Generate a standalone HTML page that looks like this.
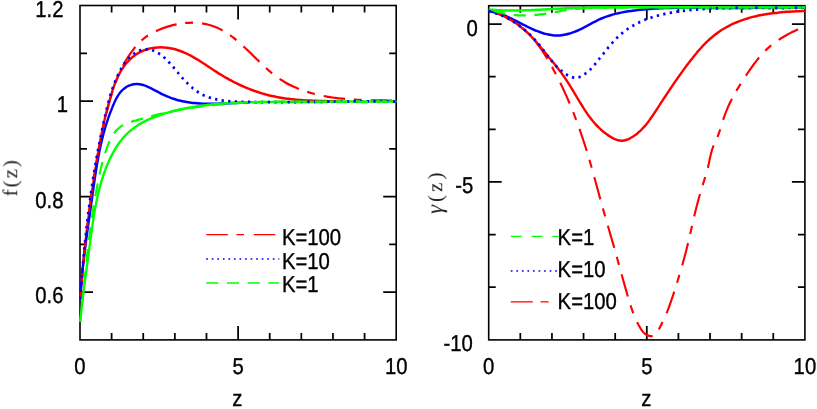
<!DOCTYPE html>
<html>
<head>
<meta charset="utf-8">
<title>f(z) and gamma(z)</title>
<style>
html,body{margin:0;padding:0;background:#fff;}
body{width:817px;height:409px;overflow:hidden;position:relative;font-family:"Liberation Sans",sans-serif;}
</style>
</head>
<body>
<svg width="817" height="409" viewBox="0 0 817 409" style="position:absolute;left:0;top:0">
<rect width="817" height="409" fill="#fff"/>
<clipPath id="cl"><rect x="79.00" y="5.50" width="318.20" height="334.40"/></clipPath>
<clipPath id="cr"><rect x="487.70" y="5.70" width="318.20" height="334.20"/></clipPath>
<rect x="80.00" y="5.50" width="316.20" height="334.40" fill="none" stroke="#000" stroke-width="1.60"/>
<path d="M111.62 5.50v7.00 M111.62 339.90v-7.00 M143.24 5.50v7.00 M143.24 339.90v-7.00 M174.86 5.50v7.00 M174.86 339.90v-7.00 M206.48 5.50v7.00 M206.48 339.90v-7.00 M238.10 5.50v14.00 M238.10 339.90v-14.00 M269.72 5.50v7.00 M269.72 339.90v-7.00 M301.34 5.50v7.00 M301.34 339.90v-7.00 M332.96 5.50v7.00 M332.96 339.90v-7.00 M364.58 5.50v7.00 M364.58 339.90v-7.00 M80.00 53.27h7.00 M396.20 53.27h-7.00 M80.00 101.04h13.00 M396.20 101.04h-13.00 M80.00 148.81h7.00 M396.20 148.81h-7.00 M80.00 196.59h13.00 M396.20 196.59h-13.00 M80.00 244.36h7.00 M396.20 244.36h-7.00 M80.00 292.13h13.00 M396.20 292.13h-13.00 " stroke="#000" stroke-width="1.75" fill="none"/>
<g clip-path="url(#cl)" stroke-linecap="butt" stroke-linejoin="round"><g transform="scale(1 1.075)">
<path d="M80.30 278.14 C80.33 277.67 80.43 276.28 80.49 275.35 C80.56 274.41 80.62 273.48 80.69 272.55 C80.76 271.62 80.83 270.69 80.90 269.75 C80.98 268.82 81.05 267.89 81.13 266.95 C81.20 266.02 81.28 265.09 81.36 264.15 C81.43 263.22 81.51 262.29 81.59 261.35 C81.68 260.42 81.76 259.48 81.84 258.55 C81.93 257.61 82.01 256.68 82.10 255.74 C82.19 254.81 82.28 253.87 82.37 252.94 C82.46 252.00 82.55 251.07 82.64 250.13 C82.73 249.20 82.83 248.26 82.92 247.32 C83.02 246.39 83.11 245.45 83.21 244.52 C83.31 243.58 83.41 242.64 83.51 241.71 C83.61 240.77 83.71 239.83 83.82 238.90 C83.92 237.96 84.03 237.03 84.13 236.09 C84.24 235.15 84.34 234.22 84.45 233.28 C84.56 232.34 84.67 231.41 84.78 230.47 C84.89 229.53 85.00 228.60 85.12 227.66 C85.23 226.72 85.34 225.79 85.46 224.85 C85.58 223.92 85.69 222.98 85.81 222.04 C85.93 221.11 86.05 220.17 86.17 219.23 C86.29 218.30 86.41 217.36 86.53 216.43 C86.65 215.49 86.77 214.56 86.90 213.62 C87.02 212.68 87.15 211.75 87.27 210.81 C87.40 209.88 87.53 208.94 87.65 208.01 C87.78 207.07 87.91 206.14 88.04 205.20 C88.17 204.27 88.30 203.34 88.43 202.40 C88.56 201.47 88.70 200.53 88.83 199.60 C88.96 198.67 89.10 197.73 89.23 196.80 C89.37 195.87 89.50 194.93 89.64 194.00 C89.78 193.07 89.92 192.14 90.05 191.20 C90.19 190.27 90.33 189.34 90.47 188.41 C90.61 187.48 90.75 186.55 90.89 185.62 C91.04 184.69 91.18 183.76 91.32 182.83 C91.46 181.90 91.61 180.97 91.75 180.04 C91.90 179.11 92.04 178.18 92.19 177.25 C92.33 176.32 92.48 175.40 92.63 174.47 C92.77 173.54 92.92 172.61 93.07 171.69 C93.22 170.76 93.37 169.83 93.51 168.91 C93.66 167.98 93.81 167.06 93.96 166.13 C94.12 165.21 94.27 164.28 94.42 163.36 C94.57 162.44 94.72 161.51 94.87 160.59 C95.03 159.67 95.18 158.75 95.33 157.83 C95.49 156.90 95.64 155.98 95.80 155.06 C95.95 154.14 96.11 153.22 96.27 152.30 C96.42 151.38 96.58 150.46 96.74 149.54 C96.90 148.62 97.06 147.70 97.23 146.79 C97.39 145.87 97.55 144.95 97.72 144.03 C97.89 143.11 98.05 142.19 98.22 141.28 C98.39 140.36 98.56 139.44 98.74 138.52 C98.91 137.61 99.08 136.69 99.26 135.77 C99.44 134.86 99.62 133.94 99.80 133.02 C99.98 132.11 100.16 131.19 100.35 130.27 C100.53 129.36 100.72 128.44 100.91 127.52 C101.10 126.61 101.30 125.69 101.49 124.77 C101.69 123.86 101.89 122.94 102.09 122.02 C102.29 121.11 102.50 120.19 102.71 119.27 C102.92 118.36 103.13 117.44 103.34 116.52 C103.56 115.60 103.77 114.69 103.99 113.77 C104.22 112.85 104.44 111.93 104.67 111.01 C104.90 110.10 105.13 109.18 105.36 108.26 C105.60 107.34 105.84 106.42 106.08 105.50 C106.33 104.58 106.57 103.66 106.83 102.74 C107.08 101.82 107.33 100.90 107.59 99.98 C107.85 99.06 108.12 98.14 108.39 97.22 C108.65 96.29 108.93 95.37 109.20 94.45 C109.48 93.53 109.76 92.60 110.05 91.68 C110.34 90.76 110.63 89.83 110.93 88.91 C111.23 87.99 111.53 87.06 111.84 86.14 C112.16 85.22 112.47 84.31 112.80 83.39 C113.13 82.48 113.47 81.57 113.82 80.67 C114.16 79.76 114.52 78.86 114.89 77.97 C115.26 77.08 115.64 76.19 116.03 75.32 C116.42 74.44 116.83 73.57 117.25 72.71 C117.67 71.85 118.10 71.00 118.55 70.16 C119.00 69.32 119.46 68.49 119.94 67.68 C120.42 66.86 120.92 66.06 121.44 65.27 C121.95 64.48 122.48 63.71 123.04 62.95 C123.59 62.19 124.16 61.44 124.75 60.71 C125.34 59.98 125.95 59.27 126.59 58.58 C127.22 57.88 127.88 57.20 128.56 56.55 C129.24 55.89 129.94 55.25 130.66 54.64 C131.39 54.02 132.14 53.43 132.91 52.85 C133.68 52.28 134.48 51.73 135.29 51.20 C136.10 50.68 136.94 50.18 137.79 49.70 C138.65 49.23 139.52 48.78 140.41 48.36 C141.29 47.94 142.20 47.54 143.12 47.18 C144.04 46.82 144.98 46.48 145.93 46.18 C146.87 45.88 147.84 45.61 148.81 45.37 C149.78 45.14 150.77 44.93 151.76 44.76 C152.75 44.59 153.76 44.45 154.76 44.34 C155.77 44.23 156.79 44.15 157.80 44.10 C158.82 44.05 159.84 44.03 160.86 44.03 C161.88 44.04 162.90 44.08 163.92 44.14 C164.94 44.20 165.96 44.29 166.97 44.41 C167.98 44.52 168.99 44.66 169.98 44.83 C170.98 44.99 171.97 45.18 172.95 45.40 C173.94 45.61 174.91 45.84 175.87 46.10 C176.83 46.36 177.79 46.64 178.73 46.94 C179.68 47.24 180.62 47.55 181.55 47.89 C182.48 48.23 183.40 48.58 184.32 48.95 C185.24 49.32 186.15 49.71 187.05 50.11 C187.96 50.51 188.86 50.93 189.75 51.36 C190.64 51.79 191.53 52.23 192.41 52.69 C193.30 53.14 194.18 53.61 195.05 54.08 C195.93 54.55 196.80 55.04 197.67 55.53 C198.53 56.02 199.40 56.52 200.26 57.03 C201.13 57.53 201.99 58.05 202.84 58.56 C203.70 59.08 204.56 59.60 205.42 60.12 C206.27 60.65 207.13 61.17 207.98 61.70 C208.83 62.23 209.69 62.76 210.54 63.28 C211.40 63.81 212.25 64.34 213.11 64.86 C213.96 65.39 214.82 65.91 215.68 66.43 C216.54 66.95 217.40 67.46 218.26 67.97 C219.12 68.48 219.99 68.98 220.86 69.48 C221.73 69.97 222.60 70.46 223.47 70.94 C224.35 71.42 225.22 71.90 226.10 72.37 C226.98 72.83 227.86 73.30 228.75 73.75 C229.63 74.20 230.52 74.65 231.41 75.09 C232.31 75.53 233.20 75.96 234.10 76.39 C234.99 76.81 235.89 77.23 236.80 77.64 C237.70 78.05 238.60 78.45 239.51 78.85 C240.42 79.24 241.33 79.63 242.25 80.01 C243.16 80.39 244.08 80.76 245.00 81.13 C245.92 81.49 246.84 81.85 247.77 82.20 C248.70 82.55 249.63 82.89 250.56 83.22 C251.49 83.55 252.42 83.88 253.36 84.20 C254.30 84.51 255.24 84.82 256.19 85.12 C257.13 85.42 258.08 85.71 259.03 86.00 C259.98 86.28 260.93 86.56 261.89 86.83 C262.84 87.09 263.80 87.35 264.76 87.60 C265.73 87.85 266.69 88.09 267.66 88.33 C268.63 88.56 269.60 88.79 270.57 89.00 C271.55 89.22 272.53 89.42 273.51 89.62 C274.49 89.82 275.47 90.01 276.46 90.19 C277.45 90.37 278.43 90.54 279.43 90.70 C280.42 90.86 281.42 91.02 282.41 91.16 C283.41 91.31 284.41 91.45 285.42 91.58 C286.42 91.71 287.43 91.83 288.43 91.94 C289.44 92.06 290.45 92.16 291.46 92.27 C292.47 92.37 293.49 92.46 294.50 92.55 C295.52 92.64 296.53 92.72 297.55 92.80 C298.56 92.88 299.58 92.95 300.60 93.02 C301.62 93.09 302.64 93.15 303.66 93.21 C304.68 93.27 305.70 93.33 306.72 93.38 C307.74 93.43 308.76 93.48 309.78 93.53 C310.80 93.57 311.82 93.61 312.84 93.66 C313.86 93.70 314.88 93.73 315.89 93.77 C316.91 93.81 317.93 93.84 318.94 93.87 C319.96 93.91 320.98 93.94 321.99 93.97 C323.00 94.00 324.01 94.03 325.02 94.06 C326.03 94.10 327.04 94.13 328.05 94.16 C329.05 94.19 330.06 94.22 331.06 94.26 C332.06 94.29 333.06 94.32 334.06 94.36 C335.05 94.40 336.05 94.43 337.04 94.48 C338.03 94.52 339.51 94.58 340.00 94.60" fill="none" stroke="#ff0000" stroke-width="2.33"/>
<path d="M80.30 278.14 C80.33 277.67 80.41 276.26 80.47 275.32 C80.53 274.38 80.59 273.44 80.66 272.50 C80.73 271.56 80.80 270.62 80.87 269.68 C80.94 268.74 81.02 267.80 81.09 266.86 C81.17 265.92 81.25 264.98 81.33 264.04 C81.42 263.10 81.50 262.16 81.59 261.22 C81.68 260.28 81.77 259.34 81.86 258.40 C81.95 257.46 82.05 256.52 82.15 255.58 C82.24 254.65 82.34 253.71 82.45 252.77 C82.55 251.83 82.65 250.89 82.76 249.95 C82.86 249.01 82.97 248.07 83.08 247.13 C83.19 246.19 83.30 245.26 83.42 244.32 C83.53 243.38 83.65 242.44 83.77 241.50 C83.88 240.56 84.00 239.62 84.12 238.69 C84.24 237.75 84.37 236.81 84.49 235.87 C84.61 234.93 84.74 233.99 84.87 233.06 C84.99 232.12 85.12 231.18 85.25 230.24 C85.38 229.31 85.51 228.37 85.64 227.43 C85.77 226.49 85.90 225.55 86.04 224.62 C86.17 223.68 86.31 222.74 86.44 221.81 C86.58 220.87 86.72 219.93 86.85 218.99 C86.99 218.06 87.13 217.12 87.27 216.18 C87.41 215.25 87.55 214.31 87.69 213.37 C87.83 212.44 87.97 211.50 88.11 210.56 C88.25 209.63 88.39 208.69 88.53 207.76 C88.68 206.82 88.82 205.88 88.96 204.95 C89.10 204.01 89.25 203.08 89.39 202.14 C89.53 201.21 89.68 200.27 89.82 199.34 C89.96 198.40 90.10 197.46 90.25 196.53 C90.39 195.59 90.53 194.66 90.68 193.73 C90.82 192.79 90.96 191.86 91.10 190.92 C91.25 189.99 91.39 189.05 91.53 188.12 C91.67 187.18 91.81 186.25 91.95 185.32 C92.09 184.38 92.23 183.45 92.37 182.51 C92.51 181.58 92.65 180.65 92.79 179.71 C92.93 178.78 93.07 177.85 93.21 176.92 C93.35 175.98 93.49 175.05 93.63 174.12 C93.77 173.19 93.91 172.25 94.05 171.32 C94.19 170.39 94.34 169.46 94.48 168.53 C94.62 167.60 94.77 166.67 94.92 165.74 C95.06 164.80 95.21 163.87 95.36 162.95 C95.51 162.02 95.66 161.09 95.82 160.16 C95.97 159.23 96.13 158.30 96.29 157.37 C96.45 156.44 96.61 155.52 96.77 154.59 C96.94 153.66 97.10 152.74 97.27 151.81 C97.44 150.88 97.62 149.96 97.79 149.03 C97.97 148.11 98.15 147.18 98.33 146.26 C98.52 145.33 98.70 144.41 98.90 143.49 C99.09 142.56 99.28 141.64 99.48 140.72 C99.68 139.80 99.88 138.88 100.09 137.96 C100.30 137.04 100.51 136.12 100.73 135.20 C100.95 134.28 101.17 133.36 101.40 132.44 C101.63 131.53 101.86 130.61 102.10 129.69 C102.34 128.78 102.58 127.86 102.83 126.95 C103.08 126.03 103.34 125.12 103.60 124.20 C103.86 123.29 104.13 122.38 104.41 121.47 C104.68 120.56 104.96 119.65 105.25 118.74 C105.54 117.83 105.83 116.92 106.13 116.01 C106.43 115.10 106.74 114.19 107.06 113.29 C107.37 112.38 107.70 111.48 108.03 110.57 C108.36 109.67 108.70 108.76 109.04 107.86 C109.39 106.96 109.74 106.06 110.11 105.16 C110.47 104.26 110.84 103.36 111.22 102.46 C111.60 101.56 111.99 100.66 112.39 99.77 C112.78 98.87 113.19 97.97 113.60 97.08 C114.02 96.19 114.44 95.29 114.89 94.41 C115.33 93.53 115.78 92.66 116.26 91.80 C116.75 90.95 117.24 90.11 117.78 89.30 C118.31 88.49 118.86 87.70 119.46 86.95 C120.05 86.20 120.68 85.48 121.35 84.80 C122.02 84.13 122.73 83.48 123.48 82.90 C124.23 82.31 125.03 81.76 125.84 81.27 C126.66 80.78 127.52 80.34 128.40 79.96 C129.27 79.58 130.17 79.25 131.08 78.99 C131.99 78.72 132.92 78.52 133.85 78.38 C134.78 78.24 135.72 78.17 136.65 78.17 C137.59 78.16 138.53 78.23 139.46 78.35 C140.40 78.47 141.33 78.65 142.27 78.88 C143.20 79.10 144.14 79.38 145.07 79.69 C146.01 80.00 146.94 80.36 147.88 80.74 C148.82 81.12 149.76 81.54 150.70 81.96 C151.63 82.39 152.57 82.85 153.52 83.31 C154.46 83.77 155.40 84.25 156.34 84.72 C157.29 85.19 158.23 85.68 159.18 86.14 C160.13 86.61 161.08 87.08 162.03 87.52 C162.98 87.96 163.93 88.39 164.89 88.80 C165.85 89.20 166.80 89.59 167.76 89.95 C168.72 90.32 169.68 90.67 170.65 91.00 C171.61 91.33 172.58 91.64 173.55 91.93 C174.51 92.22 175.48 92.50 176.46 92.76 C177.43 93.02 178.40 93.26 179.38 93.49 C180.35 93.72 181.33 93.93 182.31 94.13 C183.29 94.32 184.27 94.51 185.25 94.68 C186.23 94.84 187.22 95.00 188.20 95.14 C189.19 95.28 190.18 95.41 191.17 95.53 C192.15 95.65 193.14 95.75 194.14 95.85 C195.13 95.94 196.12 96.02 197.12 96.10 C198.11 96.17 199.11 96.23 200.11 96.28 C201.10 96.34 202.10 96.38 203.10 96.42 C204.10 96.45 205.11 96.48 206.11 96.50 C207.11 96.52 208.12 96.53 209.12 96.54 C210.13 96.54 211.13 96.54 212.14 96.53 C213.15 96.53 214.16 96.51 215.17 96.49 C216.18 96.48 217.19 96.45 218.20 96.43 C219.21 96.40 220.23 96.37 221.24 96.34 C222.26 96.31 223.27 96.27 224.29 96.23 C225.30 96.19 226.32 96.15 227.34 96.11 C228.35 96.07 229.37 96.02 230.39 95.98 C231.41 95.94 232.43 95.89 233.45 95.85 C234.47 95.81 235.49 95.76 236.51 95.72 C237.54 95.68 238.56 95.64 239.58 95.60 C240.60 95.56 241.63 95.53 242.65 95.50 C243.68 95.46 244.70 95.43 245.72 95.41 C246.75 95.39 248.29 95.36 248.80 95.35" fill="none" stroke="#0000ff" stroke-width="2.33"/>
<path d="M80.30 278.14 C80.34 277.67 80.47 276.26 80.56 275.33 C80.65 274.39 80.73 273.45 80.82 272.51 C80.91 271.57 80.99 270.64 81.08 269.70 C81.17 268.76 81.26 267.82 81.35 266.89 C81.43 265.95 81.52 265.01 81.61 264.07 C81.70 263.14 81.79 262.20 81.88 261.26 C81.97 260.33 82.06 259.39 82.15 258.45 C82.24 257.51 82.33 256.58 82.42 255.64 C82.51 254.70 82.61 253.77 82.70 252.83 C82.79 251.89 82.88 250.96 82.98 250.02 C83.07 249.08 83.16 248.15 83.26 247.21 C83.35 246.27 83.45 245.34 83.54 244.40 C83.64 243.47 83.73 242.53 83.83 241.59 C83.93 240.66 84.02 239.72 84.12 238.79 C84.22 237.85 84.32 236.91 84.42 235.98 C84.52 235.04 84.62 234.11 84.72 233.17 C84.82 232.24 84.92 231.30 85.02 230.37 C85.12 229.43 85.22 228.50 85.33 227.56 C85.43 226.63 85.54 225.69 85.64 224.76 C85.75 223.82 85.85 222.89 85.96 221.95 C86.07 221.02 86.17 220.08 86.28 219.15 C86.39 218.22 86.50 217.28 86.61 216.35 C86.72 215.41 86.83 214.48 86.95 213.55 C87.06 212.61 87.17 211.68 87.29 210.74 C87.40 209.81 87.52 208.88 87.63 207.94 C87.75 207.01 87.87 206.08 87.98 205.15 C88.10 204.21 88.22 203.28 88.34 202.35 C88.46 201.42 88.59 200.48 88.71 199.55 C88.83 198.62 88.96 197.69 89.08 196.75 C89.21 195.82 89.33 194.89 89.46 193.96 C89.59 193.03 89.72 192.10 89.85 191.16 C89.98 190.23 90.11 189.30 90.24 188.37 C90.37 187.44 90.51 186.51 90.64 185.58 C90.78 184.65 90.91 183.72 91.05 182.79 C91.19 181.86 91.33 180.93 91.47 180.00 C91.61 179.07 91.75 178.14 91.90 177.21 C92.04 176.28 92.18 175.35 92.33 174.42 C92.48 173.49 92.62 172.56 92.77 171.63 C92.92 170.70 93.07 169.77 93.23 168.84 C93.38 167.92 93.53 166.99 93.69 166.06 C93.84 165.13 94.00 164.20 94.16 163.27 C94.32 162.35 94.48 161.42 94.64 160.49 C94.80 159.56 94.96 158.64 95.13 157.71 C95.29 156.78 95.46 155.86 95.63 154.93 C95.80 154.00 95.97 153.08 96.14 152.15 C96.31 151.22 96.48 150.30 96.66 149.37 C96.83 148.45 97.01 147.52 97.19 146.60 C97.37 145.67 97.55 144.75 97.73 143.82 C97.91 142.90 98.10 141.97 98.29 141.05 C98.47 140.12 98.66 139.20 98.85 138.27 C99.04 137.35 99.23 136.43 99.43 135.50 C99.62 134.58 99.82 133.66 100.01 132.73 C100.21 131.81 100.41 130.89 100.61 129.96 C100.81 129.04 101.02 128.12 101.22 127.20 C101.43 126.28 101.64 125.35 101.85 124.43 C102.06 123.51 102.27 122.59 102.48 121.67 C102.70 120.75 102.91 119.83 103.13 118.91 C103.35 117.98 103.57 117.06 103.80 116.14 C104.02 115.22 104.24 114.30 104.47 113.38 C104.70 112.47 104.93 111.55 105.16 110.63 C105.39 109.71 105.63 108.79 105.86 107.87 C106.10 106.95 106.34 106.03 106.58 105.12 C106.82 104.20 107.06 103.28 107.31 102.36 C107.55 101.45 107.80 100.53 108.06 99.61 C108.31 98.70 108.57 97.78 108.83 96.87 C109.09 95.96 109.35 95.05 109.62 94.14 C109.89 93.23 110.16 92.32 110.44 91.41 C110.72 90.50 111.01 89.60 111.29 88.69 C111.58 87.79 111.88 86.89 112.18 85.99 C112.48 85.09 112.79 84.20 113.10 83.31 C113.42 82.41 113.74 81.52 114.06 80.64 C114.39 79.75 114.73 78.86 115.07 77.98 C115.41 77.10 115.76 76.23 116.12 75.35 C116.48 74.48 116.84 73.61 117.22 72.74 C117.59 71.88 117.98 71.01 118.37 70.16 C118.76 69.30 119.17 68.44 119.58 67.60 C119.99 66.75 120.41 65.90 120.84 65.06 C121.28 64.22 121.72 63.39 122.17 62.56 C122.62 61.73 123.09 60.91 123.56 60.09 C124.04 59.27 124.52 58.46 125.02 57.65 C125.52 56.84 126.03 56.04 126.55 55.24 C127.08 54.45 127.61 53.66 128.16 52.88 C128.71 52.09 129.27 51.32 129.84 50.55 C130.41 49.78 131.00 49.01 131.60 48.26 C132.20 47.50 132.82 46.75 133.45 46.01 C134.08 45.27 134.72 44.53 135.38 43.80 C136.04 43.08 136.71 42.36 137.40 41.65 C138.09 40.95 138.79 40.25 139.51 39.57 C140.24 38.89 140.97 38.23 141.73 37.59 C142.48 36.94 143.25 36.32 144.04 35.72 C144.83 35.12 145.63 34.54 146.45 33.99 C147.28 33.44 148.12 32.92 148.98 32.43 C149.84 31.94 150.71 31.47 151.60 31.03 C152.49 30.58 153.39 30.16 154.29 29.75 C155.20 29.34 156.11 28.95 157.03 28.56 C157.94 28.18 158.86 27.81 159.79 27.45 C160.72 27.09 161.65 26.74 162.59 26.41 C163.52 26.08 164.47 25.76 165.41 25.45 C166.36 25.15 167.31 24.86 168.27 24.58 C169.23 24.30 170.19 24.04 171.16 23.80 C172.13 23.55 173.10 23.32 174.08 23.11 C175.06 22.89 176.04 22.70 177.03 22.51 C178.02 22.33 179.02 22.17 180.02 22.02 C181.02 21.88 182.03 21.75 183.04 21.64 C184.05 21.53 185.07 21.43 186.10 21.36 C187.12 21.29 188.15 21.23 189.18 21.20 C190.21 21.16 191.24 21.14 192.27 21.15 C193.30 21.15 194.34 21.18 195.37 21.22 C196.40 21.27 197.43 21.33 198.45 21.42 C199.48 21.50 200.50 21.61 201.51 21.74 C202.53 21.87 203.54 22.02 204.54 22.19 C205.53 22.37 206.53 22.56 207.51 22.78 C208.49 23.00 209.46 23.24 210.41 23.51 C211.37 23.77 212.32 24.06 213.25 24.37 C214.18 24.68 215.11 25.01 216.02 25.37 C216.93 25.72 217.83 26.09 218.72 26.49 C219.61 26.88 220.48 27.29 221.35 27.72 C222.22 28.15 223.08 28.60 223.94 29.06 C224.79 29.52 225.63 30.01 226.46 30.50 C227.30 31.00 228.12 31.51 228.94 32.03 C229.76 32.56 230.57 33.10 231.37 33.65 C232.18 34.20 232.97 34.76 233.76 35.34 C234.56 35.91 235.34 36.50 236.12 37.10 C236.90 37.69 237.67 38.30 238.44 38.91 C239.21 39.53 239.97 40.15 240.73 40.78 C241.49 41.41 242.25 42.05 243.00 42.69 C243.75 43.33 244.50 43.98 245.25 44.64 C246.00 45.29 246.74 45.95 247.48 46.62 C248.22 47.28 248.96 47.95 249.70 48.61 C250.44 49.28 251.18 49.96 251.91 50.63 C252.65 51.30 253.38 51.97 254.12 52.65 C254.86 53.32 255.59 54.00 256.33 54.67 C257.07 55.34 257.80 56.01 258.54 56.68 C259.28 57.35 260.02 58.02 260.77 58.68 C261.51 59.34 262.25 60.00 263.00 60.65 C263.75 61.30 264.50 61.95 265.25 62.60 C266.01 63.24 266.77 63.87 267.53 64.50 C268.29 65.13 269.06 65.75 269.83 66.36 C270.60 66.98 271.38 67.58 272.16 68.17 C272.94 68.77 273.73 69.35 274.53 69.92 C275.32 70.50 276.12 71.06 276.93 71.61 C277.74 72.16 278.55 72.69 279.38 73.21 C280.20 73.74 281.03 74.25 281.87 74.74 C282.71 75.24 283.55 75.72 284.40 76.19 C285.26 76.66 286.12 77.12 286.98 77.56 C287.85 78.01 288.73 78.44 289.61 78.86 C290.49 79.28 291.37 79.68 292.27 80.08 C293.16 80.47 294.06 80.86 294.97 81.23 C295.87 81.60 296.78 81.96 297.70 82.31 C298.62 82.66 299.54 83.00 300.47 83.32 C301.40 83.65 302.33 83.97 303.27 84.27 C304.21 84.58 305.16 84.88 306.11 85.16 C307.06 85.45 308.01 85.72 308.97 85.99 C309.93 86.25 310.89 86.51 311.86 86.76 C312.82 87.01 313.80 87.24 314.77 87.47 C315.75 87.70 316.73 87.92 317.71 88.13 C318.69 88.34 319.68 88.54 320.67 88.74 C321.66 88.93 322.65 89.12 323.65 89.30 C324.64 89.48 325.64 89.65 326.65 89.81 C327.65 89.97 328.65 90.13 329.66 90.28 C330.67 90.43 331.68 90.57 332.69 90.70 C333.70 90.84 334.72 90.96 335.73 91.08 C336.75 91.21 337.76 91.32 338.78 91.43 C339.80 91.54 340.82 91.64 341.85 91.74 C342.87 91.83 343.89 91.93 344.92 92.01 C345.94 92.10 346.96 92.18 347.99 92.26 C349.02 92.33 350.04 92.40 351.07 92.47 C352.10 92.53 353.12 92.60 354.15 92.65 C355.18 92.71 356.20 92.76 357.23 92.81 C358.26 92.86 359.29 92.91 360.31 92.95 C361.34 92.99 362.36 93.03 363.39 93.07 C364.41 93.10 365.44 93.13 366.46 93.16 C367.48 93.19 368.50 93.22 369.52 93.24 C370.54 93.27 371.56 93.29 372.58 93.31 C373.60 93.33 374.61 93.35 375.62 93.36 C376.64 93.38 377.65 93.39 378.66 93.41 C379.67 93.42 380.67 93.43 381.68 93.44 C382.68 93.45 383.68 93.46 384.68 93.47 C385.68 93.48 386.67 93.49 387.67 93.50 C388.66 93.51 389.65 93.52 390.63 93.53 C391.62 93.53 392.60 93.54 393.58 93.55 C394.55 93.56 396.01 93.58 396.50 93.58" fill="none" stroke="#ff0000" stroke-width="2.10" stroke-dasharray="21.6 8.7 7.8 9.1" stroke-dashoffset="13.90"/>
<path d="M80.30 299.54 C80.34 299.06 80.47 297.63 80.56 296.69 C80.65 295.74 80.74 294.79 80.84 293.85 C80.93 292.90 81.03 291.96 81.13 291.02 C81.23 290.07 81.33 289.13 81.43 288.19 C81.53 287.25 81.64 286.32 81.75 285.38 C81.86 284.44 81.97 283.51 82.08 282.57 C82.19 281.64 82.30 280.70 82.42 279.77 C82.53 278.84 82.65 277.91 82.77 276.97 C82.89 276.04 83.01 275.11 83.13 274.18 C83.25 273.25 83.38 272.33 83.50 271.40 C83.62 270.47 83.75 269.54 83.88 268.62 C84.00 267.69 84.13 266.76 84.26 265.84 C84.39 264.91 84.52 263.99 84.65 263.06 C84.78 262.14 84.92 261.21 85.05 260.29 C85.18 259.36 85.32 258.44 85.45 257.52 C85.59 256.59 85.72 255.67 85.86 254.74 C85.99 253.82 86.13 252.90 86.26 251.97 C86.40 251.05 86.54 250.12 86.67 249.20 C86.81 248.27 86.95 247.35 87.08 246.43 C87.22 245.50 87.36 244.58 87.50 243.65 C87.63 242.72 87.77 241.80 87.91 240.87 C88.04 239.95 88.18 239.02 88.32 238.09 C88.45 237.16 88.59 236.24 88.73 235.31 C88.86 234.38 89.00 233.45 89.13 232.52 C89.27 231.59 89.40 230.65 89.53 229.72 C89.67 228.79 89.80 227.86 89.93 226.92 C90.06 225.99 90.20 225.05 90.33 224.12 C90.46 223.18 90.59 222.25 90.73 221.31 C90.86 220.38 90.99 219.44 91.13 218.50 C91.26 217.57 91.40 216.63 91.53 215.69 C91.67 214.75 91.81 213.81 91.95 212.88 C92.09 211.94 92.23 211.00 92.38 210.06 C92.52 209.13 92.66 208.19 92.81 207.25 C92.96 206.31 93.11 205.38 93.27 204.44 C93.42 203.50 93.58 202.57 93.74 201.63 C93.90 200.69 94.06 199.76 94.22 198.82 C94.39 197.89 94.56 196.95 94.74 196.02 C94.91 195.09 95.09 194.15 95.27 193.22 C95.45 192.29 95.64 191.36 95.83 190.43 C96.02 189.50 96.22 188.57 96.42 187.64 C96.62 186.71 96.83 185.79 97.04 184.86 C97.25 183.94 97.47 183.01 97.69 182.09 C97.92 181.17 98.15 180.25 98.38 179.33 C98.62 178.41 98.86 177.49 99.11 176.57 C99.36 175.66 99.62 174.74 99.88 173.83 C100.14 172.92 100.41 172.01 100.69 171.10 C100.96 170.19 101.25 169.28 101.54 168.38 C101.83 167.47 102.13 166.57 102.44 165.67 C102.75 164.77 103.07 163.87 103.39 162.97 C103.72 162.08 104.05 161.18 104.39 160.29 C104.74 159.40 105.09 158.51 105.45 157.63 C105.81 156.74 106.18 155.86 106.56 154.98 C106.94 154.10 107.33 153.22 107.73 152.35 C108.13 151.47 108.54 150.60 108.96 149.74 C109.38 148.87 109.81 148.01 110.25 147.16 C110.69 146.30 111.15 145.45 111.61 144.61 C112.08 143.77 112.55 142.94 113.04 142.11 C113.53 141.28 114.03 140.46 114.54 139.65 C115.05 138.85 115.58 138.04 116.11 137.25 C116.65 136.46 117.20 135.68 117.76 134.91 C118.32 134.14 118.90 133.38 119.49 132.63 C120.08 131.89 120.68 131.15 121.30 130.43 C121.91 129.70 122.54 128.99 123.19 128.30 C123.83 127.60 124.49 126.92 125.17 126.25 C125.84 125.59 126.53 124.94 127.23 124.30 C127.94 123.66 128.66 123.05 129.39 122.44 C130.13 121.84 130.88 121.25 131.64 120.68 C132.40 120.11 133.18 119.55 133.97 119.01 C134.76 118.47 135.57 117.95 136.38 117.43 C137.20 116.92 138.03 116.43 138.87 115.94 C139.71 115.46 140.56 114.99 141.42 114.53 C142.29 114.08 143.16 113.63 144.04 113.20 C144.93 112.77 145.82 112.36 146.72 111.95 C147.62 111.55 148.54 111.15 149.45 110.77 C150.37 110.39 151.30 110.02 152.23 109.66 C153.17 109.30 154.11 108.95 155.06 108.61 C156.01 108.27 156.96 107.95 157.92 107.63 C158.88 107.31 159.85 107.00 160.81 106.70 C161.78 106.40 162.76 106.11 163.74 105.83 C164.72 105.55 165.70 105.27 166.68 105.01 C167.67 104.74 168.66 104.49 169.64 104.24 C170.63 103.98 171.63 103.74 172.62 103.51 C173.61 103.27 174.61 103.04 175.60 102.82 C176.60 102.59 177.59 102.38 178.59 102.17 C179.58 101.96 180.58 101.75 181.57 101.55 C182.57 101.35 183.57 101.16 184.57 100.97 C185.56 100.79 186.56 100.61 187.56 100.43 C188.56 100.25 189.56 100.08 190.56 99.92 C191.56 99.76 192.56 99.60 193.56 99.44 C194.56 99.29 195.56 99.14 196.56 99.00 C197.56 98.85 198.56 98.71 199.57 98.58 C200.57 98.45 201.57 98.32 202.57 98.19 C203.58 98.07 204.58 97.95 205.58 97.83 C206.59 97.72 207.59 97.61 208.60 97.50 C209.60 97.40 210.61 97.29 211.61 97.20 C212.62 97.10 213.62 97.00 214.63 96.92 C215.63 96.83 216.64 96.74 217.65 96.66 C218.65 96.58 219.66 96.50 220.67 96.42 C221.67 96.35 222.68 96.28 223.69 96.21 C224.70 96.15 225.70 96.08 226.71 96.02 C227.72 95.96 228.73 95.90 229.74 95.85 C230.75 95.80 231.76 95.75 232.76 95.70 C233.77 95.65 234.78 95.61 235.79 95.56 C236.80 95.52 237.81 95.48 238.82 95.45 C239.83 95.41 240.84 95.37 241.85 95.34 C242.86 95.31 243.87 95.28 244.88 95.26 C245.90 95.23 246.91 95.20 247.92 95.18 C248.93 95.16 249.94 95.14 250.95 95.12 C251.96 95.10 252.97 95.08 253.98 95.07 C255.00 95.05 256.01 95.04 257.02 95.03 C258.03 95.02 259.04 95.01 260.05 95.00 C261.07 94.99 262.08 94.98 263.09 94.97 C264.10 94.97 265.11 94.96 266.13 94.96 C267.14 94.95 268.15 94.95 269.16 94.95 C270.17 94.94 271.19 94.94 272.20 94.94 C273.21 94.94 274.22 94.94 275.23 94.94 C276.25 94.94 277.26 94.94 278.27 94.94 C279.28 94.95 280.29 94.95 281.31 94.95 C282.32 94.95 283.33 94.95 284.34 94.95 C285.35 94.95 286.36 94.96 287.38 94.96 C288.39 94.96 289.40 94.96 290.41 94.96 C291.42 94.96 292.43 94.96 293.44 94.96 C294.46 94.96 295.47 94.96 296.48 94.96 C297.49 94.96 298.50 94.96 299.51 94.95 C300.52 94.95 301.53 94.95 302.54 94.94 C303.55 94.94 304.56 94.93 305.57 94.93 C306.58 94.92 307.59 94.91 308.60 94.91 C309.61 94.90 310.62 94.89 311.63 94.88 C312.64 94.88 313.65 94.87 314.66 94.86 C315.67 94.85 316.68 94.84 317.69 94.83 C318.70 94.82 319.71 94.81 320.72 94.80 C321.73 94.79 322.74 94.78 323.75 94.77 C324.76 94.76 325.76 94.74 326.77 94.73 C327.78 94.72 328.79 94.71 329.80 94.70 C330.81 94.69 331.82 94.67 332.83 94.66 C333.84 94.65 334.85 94.64 335.86 94.63 C336.87 94.62 337.87 94.60 338.88 94.59 C339.89 94.58 340.90 94.57 341.91 94.56 C342.92 94.55 343.93 94.53 344.94 94.52 C345.95 94.51 346.96 94.50 347.97 94.49 C348.98 94.48 349.98 94.47 350.99 94.46 C352.00 94.45 353.01 94.44 354.02 94.43 C355.03 94.42 356.04 94.42 357.05 94.41 C358.06 94.40 359.07 94.39 360.08 94.39 C361.09 94.38 362.10 94.37 363.11 94.37 C364.12 94.36 365.13 94.36 366.14 94.35 C367.15 94.35 368.16 94.35 369.17 94.34 C370.18 94.34 371.19 94.34 372.21 94.34 C373.22 94.34 374.23 94.34 375.24 94.34 C376.25 94.34 377.26 94.34 378.27 94.34 C379.28 94.34 380.30 94.35 381.31 94.35 C382.32 94.36 383.33 94.36 384.34 94.37 C385.36 94.38 386.37 94.39 387.38 94.39 C388.39 94.40 389.41 94.41 390.42 94.43 C391.43 94.44 392.45 94.45 393.46 94.47 C394.47 94.48 395.99 94.50 396.50 94.51" fill="none" stroke="#00ff00" stroke-width="2.33"/>
<path d="M80.30 278.14 C80.33 277.67 80.43 276.28 80.50 275.35 C80.56 274.42 80.63 273.49 80.70 272.56 C80.77 271.63 80.84 270.70 80.91 269.76 C80.98 268.83 81.05 267.90 81.12 266.97 C81.19 266.04 81.26 265.11 81.34 264.18 C81.41 263.24 81.49 262.31 81.56 261.38 C81.64 260.45 81.71 259.52 81.79 258.59 C81.87 257.65 81.94 256.72 82.02 255.79 C82.10 254.86 82.18 253.92 82.26 252.99 C82.34 252.06 82.43 251.13 82.51 250.19 C82.59 249.26 82.68 248.33 82.76 247.40 C82.84 246.46 82.93 245.53 83.02 244.60 C83.10 243.67 83.19 242.73 83.28 241.80 C83.37 240.87 83.46 239.93 83.55 239.00 C83.64 238.07 83.73 237.13 83.83 236.20 C83.92 235.27 84.01 234.34 84.11 233.40 C84.20 232.47 84.30 231.54 84.40 230.60 C84.49 229.67 84.59 228.74 84.69 227.81 C84.79 226.87 84.89 225.94 84.99 225.01 C85.09 224.07 85.20 223.14 85.30 222.21 C85.40 221.28 85.51 220.34 85.62 219.41 C85.72 218.48 85.83 217.55 85.94 216.61 C86.05 215.68 86.16 214.75 86.27 213.82 C86.38 212.88 86.49 211.95 86.60 211.02 C86.72 210.09 86.83 209.16 86.94 208.22 C87.06 207.29 87.18 206.36 87.30 205.43 C87.41 204.50 87.53 203.57 87.65 202.64 C87.77 201.70 87.89 200.77 88.02 199.84 C88.14 198.91 88.26 197.98 88.39 197.05 C88.52 196.12 88.64 195.19 88.77 194.26 C88.90 193.33 89.03 192.40 89.16 191.47 C89.29 190.54 89.42 189.61 89.55 188.68 C89.69 187.75 89.82 186.82 89.96 185.89 C90.09 184.96 90.23 184.03 90.37 183.10 C90.51 182.18 90.65 181.25 90.79 180.32 C90.93 179.39 91.07 178.46 91.22 177.53 C91.36 176.61 91.51 175.68 91.65 174.75 C91.80 173.83 91.95 172.90 92.10 171.97 C92.25 171.05 92.40 170.12 92.55 169.19 C92.70 168.27 92.86 167.34 93.01 166.42 C93.17 165.49 93.33 164.56 93.48 163.64 C93.64 162.72 93.80 161.79 93.96 160.87 C94.12 159.94 94.29 159.02 94.45 158.10 C94.62 157.17 94.78 156.25 94.95 155.33 C95.12 154.40 95.28 153.48 95.45 152.56 C95.62 151.64 95.80 150.71 95.97 149.79 C96.14 148.87 96.32 147.95 96.49 147.03 C96.67 146.11 96.85 145.19 97.03 144.27 C97.21 143.35 97.39 142.43 97.57 141.51 C97.75 140.59 97.94 139.67 98.12 138.76 C98.31 137.84 98.50 136.92 98.69 136.00 C98.88 135.09 99.07 134.17 99.26 133.25 C99.45 132.34 99.65 131.42 99.84 130.50 C100.04 129.59 100.23 128.67 100.43 127.76 C100.63 126.85 100.83 125.93 101.04 125.02 C101.24 124.10 101.44 123.19 101.65 122.28 C101.85 121.37 102.06 120.45 102.27 119.54 C102.48 118.63 102.69 117.72 102.90 116.81 C103.11 115.90 103.33 114.99 103.55 114.08 C103.76 113.17 103.98 112.26 104.20 111.35 C104.42 110.45 104.64 109.54 104.86 108.63 C105.09 107.72 105.31 106.82 105.54 105.91 C105.76 105.00 105.99 104.10 106.22 103.19 C106.46 102.29 106.69 101.39 106.93 100.48 C107.16 99.58 107.40 98.68 107.65 97.78 C107.90 96.87 108.15 95.97 108.40 95.07 C108.66 94.17 108.92 93.28 109.18 92.38 C109.45 91.48 109.72 90.59 110.00 89.69 C110.29 88.80 110.57 87.90 110.87 87.01 C111.16 86.12 111.47 85.23 111.78 84.34 C112.09 83.45 112.41 82.56 112.74 81.68 C113.07 80.79 113.41 79.91 113.76 79.03 C114.11 78.15 114.47 77.27 114.85 76.39 C115.22 75.51 115.60 74.63 116.00 73.76 C116.40 72.89 116.81 72.01 117.23 71.14 C117.65 70.27 118.09 69.41 118.54 68.54 C118.99 67.68 119.45 66.81 119.93 65.96 C120.41 65.10 120.91 64.25 121.42 63.42 C121.94 62.58 122.47 61.75 123.03 60.94 C123.58 60.14 124.16 59.34 124.76 58.56 C125.36 57.79 125.98 57.03 126.63 56.30 C127.27 55.56 127.95 54.85 128.65 54.17 C129.35 53.49 130.08 52.83 130.83 52.21 C131.59 51.59 132.38 50.99 133.19 50.44 C134.00 49.89 134.84 49.37 135.70 48.90 C136.55 48.44 137.43 48.00 138.32 47.63 C139.21 47.26 140.12 46.93 141.03 46.67 C141.95 46.40 142.87 46.19 143.80 46.05 C144.72 45.91 145.66 45.82 146.59 45.82 C147.51 45.81 148.45 45.87 149.37 46.01 C150.29 46.14 151.21 46.35 152.11 46.62 C153.02 46.89 153.92 47.22 154.81 47.60 C155.70 47.98 156.58 48.42 157.45 48.90 C158.32 49.37 159.17 49.90 160.01 50.45 C160.85 51.00 161.67 51.59 162.48 52.20 C163.29 52.81 164.08 53.45 164.85 54.09 C165.62 54.74 166.37 55.41 167.10 56.08 C167.83 56.75 168.54 57.43 169.23 58.12 C169.93 58.81 170.61 59.51 171.28 60.21 C171.95 60.91 172.61 61.62 173.26 62.33 C173.92 63.04 174.56 63.76 175.20 64.48 C175.84 65.20 176.48 65.92 177.12 66.64 C177.76 67.36 178.39 68.09 179.04 68.81 C179.68 69.53 180.33 70.25 180.98 70.96 C181.64 71.68 182.30 72.39 182.98 73.10 C183.65 73.81 184.34 74.51 185.04 75.21 C185.74 75.90 186.46 76.59 187.19 77.27 C187.92 77.95 188.66 78.62 189.42 79.27 C190.17 79.92 190.94 80.56 191.73 81.18 C192.51 81.81 193.30 82.41 194.11 83.00 C194.91 83.58 195.73 84.14 196.56 84.68 C197.39 85.22 198.23 85.74 199.08 86.22 C199.94 86.71 200.80 87.17 201.67 87.60 C202.55 88.04 203.43 88.44 204.32 88.82 C205.22 89.20 206.12 89.56 207.03 89.89 C207.94 90.22 208.86 90.53 209.79 90.81 C210.72 91.10 211.66 91.36 212.60 91.61 C213.55 91.86 214.50 92.08 215.46 92.29 C216.41 92.49 217.38 92.68 218.35 92.85 C219.32 93.02 220.30 93.18 221.28 93.32 C222.26 93.46 223.25 93.59 224.24 93.70 C225.23 93.81 226.23 93.91 227.23 94.00 C228.23 94.09 229.23 94.17 230.24 94.23 C231.24 94.30 232.25 94.36 233.27 94.41 C234.28 94.46 235.29 94.50 236.31 94.54 C237.32 94.58 238.34 94.61 239.36 94.64 C240.37 94.66 241.39 94.69 242.41 94.71 C243.43 94.73 244.45 94.74 245.47 94.76 C246.48 94.78 247.50 94.79 248.52 94.81 C249.53 94.82 250.55 94.84 251.57 94.85 C252.58 94.86 253.60 94.87 254.61 94.88 C255.62 94.90 256.64 94.91 257.65 94.91 C258.67 94.92 259.68 94.93 260.69 94.94 C261.70 94.95 262.72 94.95 263.73 94.96 C264.74 94.96 265.75 94.97 266.76 94.97 C267.77 94.98 268.78 94.98 269.79 94.98 C270.80 94.99 271.81 94.99 272.82 94.99 C273.83 94.99 274.84 94.99 275.85 94.99 C276.86 94.99 277.86 94.99 278.87 94.99 C279.88 94.99 280.89 94.99 281.89 94.98 C282.90 94.98 283.91 94.98 284.92 94.97 C285.92 94.97 286.93 94.97 287.93 94.96 C288.94 94.96 289.95 94.95 290.95 94.95 C291.96 94.94 292.96 94.94 293.97 94.93 C294.97 94.92 295.98 94.92 296.98 94.91 C297.99 94.90 298.99 94.90 299.99 94.89 C301.00 94.88 302.00 94.87 303.01 94.86 C304.01 94.86 305.01 94.85 306.02 94.84 C307.02 94.83 308.02 94.82 309.03 94.81 C310.03 94.80 311.03 94.79 312.03 94.78 C313.04 94.77 314.04 94.76 315.04 94.76 C316.05 94.75 317.05 94.74 318.05 94.73 C319.05 94.72 320.06 94.71 321.06 94.70 C322.06 94.69 323.06 94.67 324.07 94.66 C325.07 94.65 326.07 94.64 327.07 94.63 C328.08 94.62 329.08 94.61 330.08 94.60 C331.08 94.59 332.09 94.58 333.09 94.58 C334.09 94.57 335.09 94.56 336.10 94.55 C337.10 94.54 338.10 94.53 339.10 94.52 C340.11 94.51 341.11 94.50 342.11 94.49 C343.11 94.48 344.12 94.48 345.12 94.47 C346.12 94.46 347.13 94.45 348.13 94.44 C349.13 94.44 350.14 94.43 351.14 94.42 C352.15 94.42 353.15 94.41 354.15 94.40 C355.16 94.40 356.16 94.39 357.17 94.39 C358.17 94.38 359.18 94.38 360.18 94.37 C361.19 94.37 362.19 94.37 363.20 94.36 C364.20 94.36 365.21 94.36 366.21 94.36 C367.22 94.35 368.23 94.35 369.23 94.35 C370.24 94.35 371.25 94.35 372.25 94.35 C373.26 94.35 374.27 94.35 375.28 94.36 C376.28 94.36 377.29 94.36 378.30 94.36 C379.31 94.37 380.32 94.37 381.33 94.38 C382.34 94.38 383.35 94.39 384.36 94.39 C385.37 94.40 386.38 94.41 387.39 94.41 C388.40 94.42 389.41 94.43 390.42 94.44 C391.44 94.45 392.45 94.46 393.46 94.47 C394.47 94.49 395.99 94.51 396.50 94.51" fill="none" stroke="#0000ff" stroke-width="2.57" stroke-dasharray="2.3 4.3"/>
<path d="M80.30 299.53 C80.35 299.07 80.50 297.67 80.61 296.74 C80.71 295.81 80.81 294.88 80.91 293.95 C81.01 293.02 81.11 292.09 81.21 291.16 C81.31 290.23 81.41 289.30 81.51 288.36 C81.61 287.43 81.71 286.50 81.81 285.57 C81.91 284.63 82.01 283.70 82.11 282.77 C82.21 281.83 82.30 280.90 82.40 279.97 C82.50 279.03 82.60 278.10 82.70 277.17 C82.80 276.23 82.90 275.30 83.00 274.37 C83.10 273.43 83.20 272.50 83.30 271.56 C83.40 270.63 83.50 269.69 83.60 268.76 C83.70 267.82 83.80 266.89 83.90 265.95 C84.00 265.02 84.10 264.08 84.20 263.15 C84.30 262.21 84.40 261.28 84.51 260.34 C84.61 259.41 84.71 258.47 84.81 257.54 C84.92 256.60 85.02 255.67 85.12 254.73 C85.23 253.80 85.33 252.86 85.44 251.93 C85.54 250.99 85.65 250.06 85.75 249.12 C85.86 248.19 85.97 247.25 86.08 246.32 C86.18 245.38 86.29 244.45 86.40 243.51 C86.51 242.58 86.62 241.64 86.73 240.71 C86.84 239.77 86.95 238.84 87.07 237.90 C87.18 236.97 87.29 236.04 87.41 235.10 C87.52 234.17 87.64 233.23 87.75 232.30 C87.87 231.37 87.99 230.43 88.11 229.50 C88.23 228.56 88.35 227.63 88.47 226.70 C88.59 225.77 88.71 224.83 88.83 223.90 C88.96 222.97 89.08 222.03 89.21 221.10 C89.33 220.17 89.46 219.24 89.59 218.31 C89.72 217.37 89.85 216.44 89.98 215.51 C90.11 214.58 90.24 213.65 90.37 212.72 C90.51 211.79 90.64 210.86 90.78 209.93 C90.92 209.00 91.06 208.07 91.20 207.14 C91.34 206.21 91.48 205.28 91.62 204.35 C91.76 203.42 91.91 202.50 92.06 201.57 C92.20 200.64 92.35 199.71 92.50 198.79 C92.65 197.86 92.80 196.93 92.96 196.01 C93.11 195.08 93.27 194.15 93.42 193.23 C93.58 192.30 93.74 191.38 93.90 190.46 C94.06 189.53 94.22 188.61 94.39 187.68 C94.56 186.76 94.72 185.84 94.89 184.92 C95.06 183.99 95.23 183.07 95.41 182.15 C95.58 181.23 95.75 180.31 95.93 179.39 C96.11 178.47 96.29 177.55 96.47 176.63 C96.65 175.71 96.84 174.79 97.03 173.87 C97.21 172.96 97.40 172.04 97.59 171.12 C97.78 170.21 97.98 169.29 98.17 168.38 C98.37 167.46 98.57 166.55 98.77 165.63 C98.97 164.72 99.18 163.80 99.38 162.89 C99.59 161.98 99.80 161.07 100.02 160.16 C100.24 159.24 100.46 158.33 100.69 157.42 C100.91 156.51 101.15 155.60 101.39 154.69 C101.63 153.79 101.87 152.88 102.13 151.97 C102.38 151.06 102.64 150.16 102.91 149.25 C103.18 148.34 103.46 147.44 103.74 146.53 C104.03 145.63 104.33 144.72 104.63 143.82 C104.94 142.92 105.25 142.01 105.58 141.11 C105.91 140.21 106.25 139.31 106.60 138.41 C106.95 137.50 107.31 136.60 107.69 135.70 C108.07 134.81 108.46 133.91 108.86 133.02 C109.27 132.14 109.70 131.26 110.14 130.40 C110.59 129.53 111.06 128.68 111.55 127.85 C112.04 127.02 112.55 126.21 113.10 125.42 C113.64 124.64 114.21 123.88 114.81 123.15 C115.41 122.42 116.04 121.71 116.71 121.05 C117.37 120.39 118.07 119.76 118.81 119.17 C119.55 118.58 120.32 118.03 121.12 117.52 C121.92 117.01 122.76 116.54 123.62 116.10 C124.48 115.67 125.37 115.27 126.28 114.90 C127.19 114.54 128.12 114.22 129.07 113.91 C130.01 113.61 130.98 113.34 131.95 113.08 C132.92 112.81 133.90 112.57 134.88 112.32 C135.86 112.07 136.85 111.83 137.83 111.58 C138.81 111.33 139.80 111.08 140.78 110.83 C141.76 110.58 142.74 110.33 143.72 110.08 C144.70 109.83 145.69 109.58 146.67 109.33 C147.65 109.08 148.63 108.83 149.61 108.58 C150.59 108.33 151.58 108.09 152.56 107.85 C153.54 107.61 154.52 107.37 155.51 107.13 C156.49 106.90 157.47 106.67 158.46 106.44 C159.44 106.21 160.42 105.99 161.41 105.77 C162.39 105.55 163.38 105.34 164.37 105.13 C165.35 104.92 166.34 104.71 167.33 104.51 C168.31 104.31 169.30 104.11 170.29 103.92 C171.28 103.72 172.27 103.53 173.25 103.34 C174.24 103.16 175.23 102.97 176.22 102.79 C177.21 102.61 178.20 102.44 179.19 102.27 C180.18 102.10 181.18 101.93 182.17 101.76 C183.16 101.60 184.15 101.44 185.14 101.28 C186.14 101.12 187.13 100.97 188.12 100.82 C189.12 100.66 190.11 100.52 191.10 100.37 C192.10 100.23 193.09 100.09 194.09 99.95 C195.08 99.81 196.08 99.68 197.07 99.55 C198.07 99.42 199.07 99.29 200.06 99.17 C201.06 99.04 202.06 98.92 203.05 98.80 C204.05 98.68 205.05 98.57 206.05 98.46 C207.05 98.34 208.04 98.23 209.04 98.13 C210.04 98.02 211.04 97.92 212.04 97.82 C213.04 97.72 214.04 97.62 215.04 97.52 C216.04 97.43 217.04 97.34 218.04 97.25 C219.04 97.16 220.04 97.07 221.04 96.99 C222.05 96.90 223.05 96.82 224.05 96.74 C225.05 96.66 226.05 96.59 227.06 96.51 C228.06 96.44 229.06 96.37 230.07 96.30 C231.07 96.23 232.07 96.16 233.08 96.10 C234.08 96.03 235.08 95.97 236.09 95.91 C237.09 95.85 238.10 95.79 239.10 95.74 C240.11 95.68 241.11 95.63 242.12 95.58 C243.12 95.53 244.13 95.48 245.13 95.43 C246.14 95.38 247.15 95.34 248.15 95.30 C249.16 95.25 250.16 95.21 251.17 95.17 C252.18 95.13 253.18 95.10 254.19 95.06 C255.20 95.03 256.21 94.99 257.21 94.96 C258.22 94.93 259.23 94.90 260.24 94.87 C261.24 94.84 262.25 94.82 263.26 94.79 C264.27 94.76 265.28 94.74 266.29 94.72 C267.29 94.70 268.30 94.68 269.31 94.66 C270.32 94.64 271.33 94.62 272.34 94.60 C273.35 94.59 274.36 94.57 275.37 94.56 C276.38 94.55 277.39 94.53 278.39 94.52 C279.40 94.51 280.41 94.50 281.42 94.49 C282.43 94.49 283.44 94.48 284.45 94.47 C285.46 94.46 286.47 94.46 287.49 94.46 C288.50 94.45 289.51 94.45 290.52 94.45 C291.53 94.44 292.54 94.44 293.55 94.44 C294.56 94.44 295.57 94.44 296.58 94.44 C297.59 94.44 298.60 94.44 299.61 94.45 C300.62 94.45 301.63 94.45 302.65 94.46 C303.66 94.46 304.67 94.47 305.68 94.47 C306.69 94.48 307.70 94.48 308.71 94.49 C309.72 94.49 310.73 94.50 311.75 94.51 C312.76 94.52 313.77 94.52 314.78 94.53 C315.79 94.54 316.80 94.55 317.81 94.56 C318.82 94.57 319.84 94.57 320.85 94.58 C321.86 94.59 322.87 94.60 323.88 94.61 C324.89 94.62 325.90 94.63 326.91 94.64 C327.92 94.65 328.94 94.66 329.95 94.67 C330.96 94.68 331.97 94.69 332.98 94.70 C333.99 94.71 335.00 94.72 336.01 94.73 C337.02 94.74 338.03 94.74 339.04 94.75 C340.05 94.76 341.06 94.77 342.08 94.78 C343.09 94.79 344.10 94.80 345.11 94.80 C346.12 94.81 347.13 94.82 348.14 94.83 C349.15 94.83 350.16 94.84 351.17 94.85 C352.18 94.85 353.19 94.86 354.20 94.86 C355.21 94.87 356.21 94.87 357.22 94.87 C358.23 94.88 359.24 94.88 360.25 94.88 C361.26 94.88 362.27 94.89 363.28 94.89 C364.29 94.89 365.30 94.89 366.30 94.89 C367.31 94.88 368.32 94.88 369.33 94.88 C370.34 94.88 371.35 94.87 372.35 94.87 C373.36 94.86 374.37 94.86 375.38 94.85 C376.38 94.84 377.39 94.83 378.40 94.82 C379.40 94.81 380.41 94.80 381.42 94.79 C382.42 94.78 383.43 94.77 384.44 94.75 C385.44 94.74 386.45 94.72 387.46 94.70 C388.46 94.69 389.47 94.67 390.47 94.65 C391.48 94.63 392.48 94.61 393.49 94.58 C394.49 94.56 396.00 94.52 396.50 94.51" fill="none" stroke="#00ff00" stroke-width="2.10" stroke-dasharray="12 8.6" stroke-dashoffset="-15.00"/>
</g></g>
<rect x="488.70" y="5.70" width="316.20" height="334.20" fill="none" stroke="#000" stroke-width="1.60"/>
<path d="M520.32 5.70v7.00 M520.32 339.90v-7.00 M551.94 5.70v7.00 M551.94 339.90v-7.00 M583.56 5.70v7.00 M583.56 339.90v-7.00 M615.18 5.70v7.00 M615.18 339.90v-7.00 M646.80 5.70v14.00 M646.80 339.90v-14.00 M678.42 5.70v7.00 M678.42 339.90v-7.00 M710.04 5.70v7.00 M710.04 339.90v-7.00 M741.66 5.70v7.00 M741.66 339.90v-7.00 M773.28 5.70v7.00 M773.28 339.90v-7.00 M488.70 24.20h13.00 M804.90 24.20h-13.00 M488.70 76.60h7.00 M804.90 76.60h-7.00 M488.70 129.30h7.00 M804.90 129.30h-7.00 M488.70 181.90h13.00 M804.90 181.90h-13.00 M488.70 234.60h7.00 M804.90 234.60h-7.00 M488.70 287.20h7.00 M804.90 287.20h-7.00 " stroke="#000" stroke-width="1.75" fill="none"/>
<g clip-path="url(#cr)" stroke-linecap="butt" stroke-linejoin="round"><g transform="scale(1 1.075)">
<path d="M488.70 10.23 C489.20 10.34 490.71 10.65 491.70 10.89 C492.70 11.12 493.68 11.38 494.65 11.66 C495.62 11.94 496.58 12.24 497.53 12.55 C498.48 12.87 499.42 13.20 500.35 13.56 C501.28 13.91 502.20 14.28 503.12 14.67 C504.03 15.05 504.93 15.46 505.82 15.88 C506.71 16.30 507.59 16.74 508.47 17.19 C509.34 17.64 510.20 18.11 511.06 18.59 C511.91 19.08 512.76 19.58 513.59 20.09 C514.43 20.60 515.25 21.12 516.07 21.66 C516.89 22.20 517.70 22.75 518.50 23.32 C519.30 23.88 520.09 24.46 520.87 25.05 C521.65 25.64 522.42 26.24 523.19 26.85 C523.95 27.46 524.71 28.08 525.46 28.71 C526.20 29.34 526.94 29.98 527.67 30.64 C528.40 31.29 529.13 31.95 529.84 32.61 C530.55 33.28 531.26 33.96 531.96 34.64 C532.66 35.33 533.35 36.02 534.03 36.72 C534.71 37.42 535.38 38.13 536.05 38.84 C536.72 39.55 537.38 40.27 538.03 40.99 C538.69 41.71 539.34 42.43 539.98 43.16 C540.63 43.89 541.27 44.62 541.91 45.35 C542.55 46.08 543.18 46.81 543.82 47.54 C544.45 48.27 545.09 49.00 545.72 49.72 C546.36 50.45 546.99 51.17 547.63 51.89 C548.26 52.61 548.90 53.33 549.54 54.04 C550.17 54.76 550.81 55.47 551.44 56.19 C552.08 56.90 552.71 57.62 553.34 58.33 C553.97 59.05 554.60 59.76 555.22 60.48 C555.85 61.20 556.47 61.92 557.09 62.65 C557.71 63.37 558.32 64.10 558.93 64.83 C559.54 65.56 560.14 66.30 560.74 67.04 C561.34 67.78 561.93 68.53 562.52 69.28 C563.10 70.04 563.68 70.80 564.25 71.56 C564.82 72.33 565.39 73.11 565.95 73.89 C566.51 74.67 567.06 75.46 567.61 76.25 C568.15 77.04 568.70 77.84 569.24 78.64 C569.77 79.44 570.31 80.25 570.84 81.06 C571.37 81.87 571.90 82.68 572.43 83.50 C572.96 84.31 573.48 85.13 574.00 85.95 C574.53 86.77 575.05 87.59 575.58 88.40 C576.10 89.22 576.62 90.04 577.15 90.86 C577.67 91.68 578.20 92.50 578.73 93.32 C579.26 94.13 579.79 94.95 580.32 95.76 C580.86 96.57 581.39 97.38 581.94 98.19 C582.48 98.99 583.02 99.79 583.58 100.59 C584.13 101.39 584.68 102.18 585.25 102.97 C585.81 103.75 586.38 104.53 586.96 105.31 C587.53 106.08 588.12 106.85 588.71 107.60 C589.31 108.36 589.91 109.11 590.52 109.86 C591.13 110.60 591.75 111.33 592.38 112.05 C593.01 112.78 593.65 113.49 594.31 114.19 C594.96 114.90 595.62 115.59 596.30 116.27 C596.98 116.95 597.67 117.62 598.37 118.27 C599.08 118.93 599.79 119.57 600.53 120.20 C601.26 120.83 602.00 121.44 602.77 122.04 C603.53 122.64 604.31 123.23 605.10 123.80 C605.90 124.36 606.71 124.92 607.54 125.45 C608.37 125.99 609.21 126.51 610.08 127.01 C610.95 127.51 611.83 128.00 612.73 128.44 C613.63 128.88 614.54 129.30 615.47 129.64 C616.39 129.98 617.33 130.28 618.27 130.49 C619.21 130.70 620.16 130.84 621.11 130.88 C622.06 130.91 623.02 130.85 623.97 130.70 C624.92 130.56 625.88 130.31 626.82 130.00 C627.75 129.70 628.69 129.31 629.61 128.89 C630.52 128.47 631.43 127.98 632.31 127.47 C633.19 126.96 634.05 126.41 634.88 125.85 C635.71 125.29 636.52 124.71 637.31 124.10 C638.10 123.50 638.86 122.88 639.61 122.24 C640.36 121.61 641.08 120.95 641.79 120.28 C642.50 119.61 643.19 118.93 643.86 118.23 C644.54 117.53 645.19 116.82 645.84 116.09 C646.48 115.37 647.11 114.64 647.73 113.89 C648.35 113.15 648.96 112.40 649.56 111.64 C650.16 110.88 650.74 110.11 651.32 109.33 C651.90 108.56 652.48 107.78 653.04 107.00 C653.61 106.21 654.17 105.43 654.73 104.64 C655.29 103.85 655.85 103.06 656.40 102.27 C656.95 101.48 657.51 100.69 658.06 99.90 C658.61 99.11 659.16 98.32 659.72 97.53 C660.27 96.75 660.82 95.96 661.37 95.18 C661.92 94.39 662.47 93.61 663.03 92.82 C663.58 92.04 664.13 91.26 664.68 90.48 C665.24 89.70 665.79 88.92 666.34 88.14 C666.90 87.36 667.45 86.58 668.01 85.80 C668.56 85.03 669.12 84.25 669.68 83.48 C670.24 82.70 670.80 81.93 671.36 81.15 C671.92 80.38 672.48 79.61 673.04 78.84 C673.61 78.07 674.17 77.30 674.74 76.53 C675.31 75.77 675.88 75.00 676.45 74.24 C677.02 73.47 677.59 72.71 678.17 71.94 C678.74 71.18 679.32 70.42 679.90 69.66 C680.48 68.90 681.07 68.14 681.65 67.39 C682.24 66.63 682.83 65.87 683.42 65.12 C684.01 64.36 684.61 63.61 685.21 62.86 C685.81 62.11 686.41 61.36 687.01 60.61 C687.62 59.86 688.23 59.11 688.84 58.37 C689.45 57.62 690.07 56.88 690.69 56.13 C691.31 55.39 691.93 54.65 692.56 53.91 C693.19 53.17 693.83 52.44 694.47 51.70 C695.10 50.97 695.75 50.24 696.40 49.52 C697.05 48.79 697.70 48.07 698.36 47.36 C699.03 46.64 699.69 45.93 700.37 45.23 C701.04 44.53 701.73 43.83 702.42 43.14 C703.11 42.45 703.80 41.77 704.51 41.09 C705.21 40.42 705.92 39.75 706.65 39.10 C707.37 38.44 708.10 37.80 708.84 37.16 C709.58 36.52 710.33 35.90 711.09 35.28 C711.84 34.67 712.61 34.06 713.39 33.47 C714.17 32.88 714.96 32.30 715.76 31.74 C716.56 31.17 717.37 30.62 718.20 30.08 C719.02 29.54 719.85 29.02 720.69 28.51 C721.54 28.00 722.39 27.50 723.25 27.01 C724.11 26.53 724.98 26.05 725.86 25.59 C726.74 25.13 727.62 24.69 728.52 24.25 C729.41 23.82 730.31 23.40 731.22 22.99 C732.13 22.58 733.05 22.18 733.97 21.80 C734.89 21.41 735.82 21.04 736.75 20.68 C737.68 20.32 738.62 19.98 739.56 19.64 C740.50 19.31 741.45 18.98 742.40 18.67 C743.35 18.36 744.30 18.06 745.26 17.77 C746.22 17.49 747.18 17.21 748.14 16.94 C749.11 16.68 750.08 16.42 751.05 16.18 C752.02 15.94 752.99 15.70 753.97 15.48 C754.95 15.25 755.93 15.04 756.91 14.83 C757.89 14.63 758.88 14.43 759.87 14.25 C760.86 14.06 761.85 13.88 762.84 13.71 C763.83 13.54 764.83 13.38 765.82 13.23 C766.82 13.08 767.82 12.93 768.82 12.80 C769.81 12.66 770.82 12.53 771.82 12.40 C772.82 12.28 773.82 12.17 774.83 12.06 C775.83 11.95 776.84 11.84 777.84 11.75 C778.85 11.65 779.86 11.56 780.87 11.47 C781.87 11.39 782.88 11.31 783.89 11.23 C784.90 11.16 785.91 11.09 786.91 11.02 C787.92 10.96 788.93 10.90 789.94 10.84 C790.95 10.78 791.95 10.73 792.96 10.68 C793.97 10.63 794.97 10.59 795.98 10.54 C796.99 10.50 797.99 10.46 798.99 10.43 C800.00 10.39 801.00 10.35 802.00 10.32 C803.00 10.29 804.50 10.25 805.00 10.23" fill="none" stroke="#ff0000" stroke-width="2.33"/>
<path d="M488.70 10.23 C489.21 10.31 490.74 10.51 491.74 10.69 C492.75 10.86 493.74 11.07 494.72 11.30 C495.70 11.52 496.67 11.77 497.64 12.04 C498.60 12.31 499.55 12.61 500.50 12.92 C501.45 13.23 502.39 13.56 503.33 13.90 C504.26 14.24 505.19 14.60 506.11 14.98 C507.04 15.35 507.96 15.74 508.88 16.13 C509.80 16.53 510.71 16.94 511.62 17.36 C512.53 17.77 513.44 18.20 514.36 18.63 C515.27 19.06 516.17 19.50 517.09 19.93 C518.00 20.37 518.91 20.82 519.82 21.26 C520.74 21.71 521.65 22.15 522.57 22.59 C523.49 23.04 524.42 23.48 525.35 23.92 C526.27 24.35 527.21 24.79 528.14 25.22 C529.08 25.64 530.02 26.06 530.97 26.47 C531.91 26.88 532.86 27.28 533.81 27.67 C534.76 28.05 535.72 28.43 536.67 28.78 C537.63 29.14 538.59 29.49 539.55 29.81 C540.52 30.13 541.48 30.44 542.45 30.72 C543.42 31.01 544.39 31.27 545.36 31.51 C546.33 31.75 547.30 31.96 548.27 32.15 C549.25 32.33 550.22 32.50 551.20 32.63 C552.17 32.75 553.15 32.86 554.12 32.92 C555.10 32.99 556.08 33.02 557.05 33.02 C558.03 33.02 559.01 32.98 559.98 32.91 C560.96 32.84 561.93 32.74 562.90 32.61 C563.88 32.47 564.85 32.30 565.82 32.11 C566.79 31.92 567.76 31.70 568.72 31.45 C569.68 31.20 570.64 30.93 571.60 30.63 C572.56 30.34 573.51 30.01 574.46 29.67 C575.41 29.33 576.36 28.97 577.30 28.59 C578.24 28.21 579.17 27.81 580.10 27.40 C581.03 26.98 581.95 26.55 582.87 26.11 C583.79 25.68 584.71 25.22 585.63 24.77 C586.54 24.32 587.45 23.85 588.37 23.39 C589.28 22.93 590.19 22.46 591.10 22.01 C592.02 21.55 592.93 21.09 593.85 20.64 C594.76 20.19 595.68 19.75 596.60 19.32 C597.52 18.90 598.44 18.48 599.37 18.08 C600.30 17.68 601.23 17.30 602.17 16.94 C603.11 16.58 604.06 16.23 605.00 15.91 C605.95 15.58 606.91 15.27 607.86 14.97 C608.82 14.67 609.78 14.39 610.74 14.12 C611.71 13.86 612.68 13.60 613.65 13.36 C614.62 13.12 615.60 12.89 616.57 12.68 C617.55 12.46 618.53 12.25 619.52 12.06 C620.50 11.86 621.49 11.68 622.47 11.51 C623.46 11.33 624.45 11.16 625.45 11.01 C626.44 10.85 627.43 10.70 628.43 10.55 C629.42 10.41 630.42 10.27 631.42 10.14 C632.41 10.01 633.41 9.88 634.41 9.76 C635.41 9.64 636.41 9.53 637.42 9.42 C638.42 9.31 639.42 9.20 640.42 9.10 C641.43 9.00 642.43 8.91 643.44 8.82 C644.44 8.73 645.45 8.64 646.46 8.56 C647.46 8.48 648.47 8.40 649.48 8.33 C650.49 8.26 651.50 8.19 652.51 8.13 C653.52 8.06 654.53 8.00 655.54 7.95 C656.55 7.89 657.57 7.84 658.58 7.79 C659.59 7.74 660.61 7.70 661.62 7.66 C662.63 7.62 663.65 7.58 664.66 7.54 C665.68 7.51 666.70 7.48 667.71 7.45 C668.73 7.42 669.75 7.40 670.76 7.37 C671.78 7.35 672.80 7.33 673.82 7.31 C674.83 7.30 675.85 7.28 676.87 7.27 C677.89 7.26 678.91 7.25 679.93 7.24 C680.95 7.23 681.97 7.22 682.99 7.22 C684.01 7.21 685.03 7.21 686.05 7.21 C687.07 7.21 688.09 7.21 689.11 7.21 C690.13 7.22 691.15 7.22 692.18 7.22 C693.20 7.23 694.22 7.24 695.24 7.24 C696.26 7.25 697.28 7.26 698.30 7.27 C699.33 7.27 700.35 7.28 701.37 7.29 C702.39 7.30 703.41 7.31 704.43 7.33 C705.45 7.34 706.47 7.35 707.50 7.36 C708.52 7.37 709.54 7.38 710.56 7.39 C711.58 7.40 712.60 7.42 713.62 7.43 C714.64 7.44 715.66 7.45 716.68 7.46 C717.70 7.47 718.72 7.48 719.74 7.48 C720.76 7.49 721.78 7.50 722.80 7.51 C723.81 7.51 724.83 7.52 725.85 7.52 C726.87 7.53 727.89 7.53 728.90 7.53 C729.92 7.53 730.94 7.53 731.95 7.53 C732.97 7.53 733.98 7.53 735.00 7.52 C736.01 7.52 737.03 7.51 738.04 7.50 C739.06 7.50 740.07 7.49 741.08 7.48 C742.10 7.47 743.11 7.45 744.12 7.44 C745.13 7.43 746.15 7.42 747.16 7.40 C748.17 7.39 749.18 7.37 750.20 7.36 C751.21 7.34 752.22 7.33 753.23 7.31 C754.24 7.29 755.25 7.28 756.26 7.26 C757.28 7.24 758.29 7.22 759.30 7.21 C760.31 7.19 761.32 7.17 762.33 7.16 C763.34 7.14 764.35 7.12 765.37 7.11 C766.38 7.09 767.39 7.07 768.40 7.06 C769.41 7.04 770.42 7.03 771.44 7.01 C772.45 7.00 773.46 6.98 774.47 6.97 C775.49 6.96 776.50 6.95 777.51 6.94 C778.53 6.93 779.54 6.92 780.55 6.91 C781.57 6.90 782.58 6.89 783.60 6.89 C784.61 6.88 785.63 6.88 786.64 6.88 C787.66 6.88 788.68 6.88 789.69 6.88 C790.71 6.88 791.73 6.88 792.75 6.89 C793.76 6.90 794.78 6.90 795.80 6.91 C796.82 6.92 797.84 6.94 798.86 6.95 C799.89 6.97 800.91 6.98 801.93 7.00 C802.95 7.02 804.49 7.06 805.00 7.07" fill="none" stroke="#0000ff" stroke-width="2.33"/>
<path d="M488.70 10.23 C489.19 10.34 490.65 10.66 491.62 10.90 C492.59 11.15 493.55 11.41 494.51 11.69 C495.47 11.97 496.42 12.27 497.37 12.58 C498.32 12.90 499.26 13.23 500.19 13.58 C501.13 13.93 502.06 14.30 502.98 14.68 C503.90 15.06 504.81 15.46 505.72 15.88 C506.62 16.30 507.52 16.73 508.41 17.17 C509.30 17.62 510.18 18.08 511.05 18.56 C511.92 19.04 512.79 19.53 513.64 20.04 C514.49 20.54 515.33 21.06 516.16 21.60 C517.00 22.13 517.82 22.68 518.63 23.24 C519.44 23.80 520.23 24.37 521.02 24.96 C521.81 25.55 522.58 26.15 523.34 26.76 C524.11 27.37 524.85 27.99 525.59 28.62 C526.33 29.25 527.05 29.90 527.76 30.56 C528.47 31.21 529.17 31.88 529.86 32.55 C530.55 33.23 531.22 33.92 531.88 34.61 C532.55 35.30 533.20 36.01 533.85 36.72 C534.49 37.44 535.12 38.16 535.74 38.89 C536.37 39.62 536.98 40.35 537.59 41.10 C538.19 41.84 538.78 42.60 539.37 43.35 C539.96 44.11 540.53 44.88 541.10 45.65 C541.67 46.42 542.24 47.20 542.79 47.98 C543.35 48.76 543.89 49.55 544.43 50.34 C544.97 51.13 545.51 51.93 546.03 52.73 C546.56 53.53 547.08 54.33 547.60 55.14 C548.12 55.95 548.63 56.76 549.13 57.57 C549.64 58.38 550.14 59.20 550.64 60.02 C551.13 60.83 551.63 61.65 552.11 62.48 C552.60 63.30 553.09 64.12 553.57 64.94 C554.05 65.77 554.52 66.60 555.00 67.42 C555.47 68.25 555.94 69.08 556.40 69.91 C556.86 70.74 557.33 71.58 557.78 72.41 C558.24 73.25 558.69 74.08 559.14 74.92 C559.59 75.76 560.03 76.60 560.47 77.44 C560.92 78.28 561.35 79.12 561.79 79.96 C562.22 80.81 562.65 81.65 563.08 82.50 C563.50 83.35 563.93 84.20 564.35 85.05 C564.77 85.90 565.18 86.75 565.59 87.60 C566.01 88.45 566.42 89.31 566.82 90.16 C567.23 91.02 567.63 91.87 568.03 92.73 C568.43 93.59 568.82 94.45 569.21 95.31 C569.61 96.17 569.99 97.03 570.38 97.89 C570.76 98.76 571.15 99.62 571.53 100.49 C571.90 101.35 572.28 102.22 572.65 103.09 C573.03 103.95 573.40 104.82 573.76 105.69 C574.13 106.56 574.49 107.44 574.85 108.31 C575.21 109.18 575.57 110.05 575.92 110.93 C576.28 111.80 576.63 112.68 576.98 113.56 C577.33 114.43 577.67 115.31 578.02 116.19 C578.36 117.07 578.70 117.95 579.04 118.83 C579.37 119.71 579.71 120.59 580.04 121.47 C580.37 122.35 580.70 123.24 581.03 124.12 C581.36 125.01 581.68 125.89 582.00 126.78 C582.32 127.66 582.64 128.55 582.96 129.44 C583.27 130.33 583.59 131.22 583.90 132.11 C584.21 132.99 584.52 133.88 584.83 134.78 C585.13 135.67 585.44 136.56 585.74 137.45 C586.04 138.34 586.34 139.24 586.64 140.13 C586.93 141.02 587.23 141.92 587.52 142.81 C587.81 143.71 588.11 144.60 588.39 145.50 C588.68 146.40 588.97 147.29 589.25 148.19 C589.54 149.09 589.82 149.99 590.10 150.88 C590.38 151.78 590.66 152.68 590.94 153.58 C591.21 154.48 591.49 155.38 591.76 156.28 C592.04 157.18 592.31 158.08 592.58 158.98 C592.85 159.88 593.12 160.79 593.39 161.69 C593.66 162.59 593.93 163.49 594.19 164.39 C594.46 165.30 594.73 166.20 594.99 167.10 C595.26 168.00 595.52 168.91 595.79 169.81 C596.05 170.71 596.31 171.61 596.58 172.52 C596.84 173.42 597.11 174.32 597.37 175.23 C597.63 176.13 597.90 177.03 598.16 177.94 C598.42 178.84 598.69 179.74 598.95 180.64 C599.22 181.55 599.48 182.45 599.75 183.35 C600.01 184.25 600.28 185.16 600.54 186.06 C600.81 186.96 601.08 187.86 601.35 188.76 C601.61 189.67 601.88 190.57 602.15 191.47 C602.42 192.37 602.70 193.27 602.97 194.17 C603.24 195.07 603.51 195.97 603.79 196.87 C604.06 197.77 604.34 198.67 604.62 199.57 C604.89 200.47 605.17 201.36 605.45 202.26 C605.73 203.16 606.01 204.06 606.29 204.96 C606.56 205.86 606.84 206.75 607.12 207.65 C607.40 208.55 607.69 209.45 607.97 210.35 C608.25 211.24 608.53 212.14 608.81 213.04 C609.09 213.94 609.37 214.83 609.65 215.73 C609.93 216.63 610.21 217.53 610.49 218.43 C610.77 219.32 611.05 220.22 611.33 221.12 C611.61 222.02 611.89 222.92 612.17 223.81 C612.44 224.71 612.72 225.61 613.00 226.51 C613.28 227.41 613.55 228.31 613.83 229.21 C614.10 230.11 614.37 231.01 614.65 231.91 C614.92 232.81 615.19 233.71 615.46 234.61 C615.74 235.51 616.01 236.41 616.28 237.31 C616.55 238.21 616.82 239.11 617.08 240.01 C617.35 240.91 617.62 241.81 617.89 242.71 C618.16 243.62 618.43 244.52 618.69 245.42 C618.96 246.32 619.23 247.22 619.50 248.12 C619.76 249.03 620.03 249.93 620.30 250.83 C620.57 251.73 620.83 252.63 621.10 253.53 C621.37 254.44 621.64 255.34 621.91 256.24 C622.18 257.14 622.44 258.04 622.71 258.95 C622.98 259.85 623.25 260.75 623.52 261.65 C623.80 262.55 624.07 263.45 624.34 264.36 C624.61 265.26 624.89 266.16 625.16 267.06 C625.43 267.96 625.71 268.86 625.99 269.76 C626.26 270.66 626.54 271.56 626.82 272.47 C627.10 273.37 627.38 274.27 627.66 275.17 C627.94 276.07 628.22 276.97 628.51 277.86 C628.80 278.76 629.08 279.66 629.38 280.56 C629.67 281.45 629.97 282.35 630.27 283.24 C630.58 284.14 630.89 285.03 631.20 285.91 C631.52 286.80 631.85 287.69 632.18 288.57 C632.52 289.45 632.86 290.33 633.21 291.20 C633.57 292.07 633.93 292.94 634.31 293.81 C634.69 294.67 635.08 295.53 635.48 296.39 C635.89 297.24 636.30 298.09 636.74 298.93 C637.17 299.77 637.62 300.61 638.09 301.44 C638.55 302.27 639.04 303.09 639.54 303.91 C640.05 304.72 640.55 305.54 641.12 306.32 C641.68 307.09 642.25 307.87 642.91 308.56 C643.57 309.26 644.27 309.94 645.06 310.51 C645.86 311.08 646.77 311.63 647.69 311.99 C648.61 312.35 649.65 312.66 650.58 312.68 C651.51 312.71 652.43 312.50 653.27 312.14 C654.10 311.77 654.88 311.14 655.59 310.48 C656.31 309.82 656.97 308.97 657.58 308.16 C658.19 307.35 658.74 306.47 659.26 305.62 C659.78 304.77 660.24 303.92 660.71 303.07 C661.17 302.22 661.61 301.37 662.05 300.53 C662.49 299.68 662.93 298.84 663.36 297.99 C663.80 297.15 664.22 296.31 664.64 295.46 C665.05 294.61 665.46 293.76 665.86 292.91 C666.26 292.06 666.64 291.20 667.02 290.34 C667.40 289.47 667.77 288.61 668.13 287.74 C668.49 286.87 668.84 286.00 669.19 285.12 C669.53 284.25 669.87 283.37 670.21 282.49 C670.54 281.61 670.87 280.73 671.19 279.85 C671.52 278.96 671.84 278.08 672.15 277.19 C672.47 276.30 672.78 275.41 673.09 274.52 C673.40 273.64 673.71 272.75 674.02 271.86 C674.33 270.97 674.64 270.07 674.94 269.18 C675.25 268.29 675.55 267.40 675.85 266.51 C676.15 265.62 676.45 264.72 676.75 263.83 C677.05 262.94 677.35 262.04 677.65 261.15 C677.94 260.25 678.24 259.36 678.53 258.46 C678.82 257.57 679.11 256.67 679.40 255.78 C679.69 254.88 679.98 253.98 680.26 253.09 C680.54 252.19 680.83 251.29 681.11 250.39 C681.39 249.49 681.67 248.60 681.94 247.70 C682.22 246.80 682.49 245.90 682.77 245.00 C683.04 244.09 683.31 243.19 683.58 242.29 C683.84 241.39 684.11 240.49 684.37 239.58 C684.63 238.68 684.89 237.78 685.15 236.87 C685.41 235.97 685.66 235.06 685.91 234.16 C686.17 233.25 686.42 232.35 686.66 231.44 C686.91 230.53 687.15 229.63 687.39 228.72 C687.63 227.81 687.87 226.90 688.11 225.99 C688.34 225.08 688.57 224.17 688.80 223.26 C689.03 222.35 689.26 221.44 689.49 220.53 C689.71 219.62 689.94 218.71 690.16 217.80 C690.38 216.88 690.60 215.97 690.82 215.06 C691.04 214.15 691.26 213.23 691.48 212.32 C691.70 211.41 691.92 210.50 692.15 209.59 C692.37 208.67 692.59 207.76 692.81 206.85 C693.03 205.94 693.26 205.03 693.48 204.11 C693.71 203.20 693.94 202.29 694.17 201.38 C694.40 200.47 694.63 199.56 694.87 198.65 C695.11 197.74 695.34 196.83 695.58 195.93 C695.83 195.02 696.07 194.11 696.32 193.20 C696.56 192.30 696.81 191.39 697.07 190.48 C697.32 189.58 697.58 188.67 697.84 187.77 C698.10 186.87 698.36 185.96 698.62 185.06 C698.89 184.16 699.16 183.26 699.43 182.36 C699.71 181.46 699.98 180.56 700.26 179.66 C700.54 178.76 700.83 177.86 701.11 176.97 C701.40 176.07 701.69 175.17 701.99 174.28 C702.28 173.39 702.59 172.49 702.89 171.60 C703.19 170.71 703.50 169.82 703.80 168.92 C704.11 168.03 704.42 167.14 704.72 166.25 C705.02 165.36 705.32 164.46 705.62 163.57 C705.91 162.67 706.20 161.78 706.48 160.88 C706.76 159.98 707.03 159.08 707.29 158.17 C707.55 157.27 707.79 156.36 708.03 155.44 C708.26 154.53 708.48 153.61 708.69 152.70 C708.91 151.78 709.11 150.86 709.32 149.94 C709.53 149.02 709.73 148.10 709.95 147.18 C710.16 146.26 710.37 145.35 710.61 144.44 C710.84 143.53 711.08 142.62 711.34 141.72 C711.61 140.82 711.88 139.92 712.19 139.03 C712.50 138.15 712.83 137.27 713.19 136.40 C713.55 135.53 713.95 134.67 714.35 133.81 C714.75 132.95 715.18 132.10 715.60 131.25 C716.01 130.40 716.44 129.55 716.85 128.69 C717.25 127.83 717.65 126.97 718.02 126.10 C718.39 125.23 718.73 124.35 719.07 123.47 C719.40 122.59 719.72 121.70 720.03 120.81 C720.34 119.92 720.63 119.02 720.93 118.13 C721.23 117.23 721.52 116.33 721.81 115.44 C722.11 114.54 722.40 113.65 722.70 112.75 C723.01 111.86 723.32 110.97 723.64 110.08 C723.96 109.19 724.29 108.31 724.64 107.43 C724.98 106.55 725.34 105.68 725.71 104.81 C726.07 103.94 726.45 103.07 726.84 102.20 C727.23 101.34 727.62 100.48 728.03 99.63 C728.44 98.77 728.85 97.92 729.28 97.07 C729.70 96.22 730.14 95.38 730.58 94.54 C731.02 93.70 731.48 92.86 731.94 92.03 C732.40 91.19 732.86 90.37 733.34 89.54 C733.81 88.72 734.30 87.90 734.79 87.08 C735.28 86.26 735.78 85.45 736.28 84.64 C736.78 83.83 737.30 83.03 737.81 82.23 C738.33 81.42 738.85 80.63 739.38 79.83 C739.91 79.04 740.44 78.25 740.98 77.46 C741.52 76.67 742.06 75.89 742.61 75.10 C743.16 74.32 743.71 73.54 744.26 72.76 C744.82 71.97 745.37 71.20 745.93 70.42 C746.49 69.64 747.05 68.86 747.62 68.09 C748.18 67.31 748.75 66.53 749.32 65.76 C749.89 64.99 750.46 64.21 751.04 63.44 C751.62 62.68 752.20 61.91 752.79 61.15 C753.38 60.39 753.97 59.63 754.57 58.88 C755.17 58.13 755.78 57.38 756.40 56.64 C757.01 55.91 757.64 55.17 758.27 54.45 C758.91 53.72 759.55 53.01 760.20 52.30 C760.85 51.59 761.52 50.89 762.19 50.21 C762.87 49.52 763.55 48.84 764.25 48.17 C764.95 47.50 765.67 46.85 766.39 46.20 C767.12 45.56 767.86 44.93 768.61 44.31 C769.36 43.69 770.13 43.08 770.90 42.49 C771.68 41.89 772.47 41.31 773.26 40.74 C774.06 40.17 774.87 39.61 775.69 39.06 C776.51 38.51 777.34 37.97 778.17 37.44 C779.01 36.91 779.86 36.40 780.71 35.89 C781.57 35.38 782.43 34.89 783.30 34.41 C784.17 33.92 785.04 33.45 785.92 32.98 C786.81 32.52 787.69 32.07 788.59 31.62 C789.48 31.18 790.38 30.74 791.28 30.32 C792.18 29.90 793.09 29.48 794.00 29.08 C794.91 28.67 795.82 28.28 796.73 27.89 C797.65 27.50 798.56 27.12 799.48 26.76 C800.40 26.39 801.32 26.03 802.24 25.68 C803.16 25.33 804.54 24.82 805.00 24.65" fill="none" stroke="#ff0000" stroke-width="2.10" stroke-dasharray="21.6 8.7 7.8 9.1" stroke-dashoffset="-7.00"/>
<path d="M488.70 8.84 C489.21 8.88 490.72 9.02 491.73 9.10 C492.74 9.19 493.75 9.26 494.77 9.33 C495.78 9.39 496.79 9.45 497.80 9.51 C498.81 9.56 499.82 9.61 500.83 9.65 C501.84 9.69 502.86 9.72 503.87 9.75 C504.88 9.78 505.89 9.80 506.90 9.82 C507.91 9.84 508.93 9.85 509.94 9.86 C510.95 9.86 511.96 9.86 512.97 9.86 C513.99 9.86 515.00 9.85 516.01 9.84 C517.02 9.83 518.03 9.82 519.05 9.80 C520.06 9.78 521.07 9.76 522.08 9.73 C523.10 9.71 524.11 9.68 525.12 9.64 C526.13 9.61 527.15 9.58 528.16 9.54 C529.17 9.50 530.18 9.46 531.20 9.42 C532.21 9.38 533.22 9.34 534.23 9.29 C535.25 9.25 536.26 9.20 537.27 9.15 C538.28 9.10 539.30 9.05 540.31 9.00 C541.32 8.95 542.34 8.90 543.35 8.85 C544.36 8.80 545.38 8.75 546.39 8.69 C547.40 8.64 548.42 8.59 549.43 8.54 C550.44 8.49 551.46 8.44 552.47 8.39 C553.48 8.34 554.49 8.29 555.51 8.24 C556.52 8.19 557.54 8.14 558.55 8.10 C559.56 8.05 560.58 8.01 561.59 7.97 C562.60 7.92 563.62 7.88 564.63 7.85 C565.64 7.81 566.66 7.77 567.67 7.73 C568.68 7.70 569.70 7.66 570.71 7.63 C571.72 7.59 572.74 7.56 573.75 7.53 C574.77 7.50 575.78 7.47 576.79 7.44 C577.81 7.41 578.82 7.39 579.83 7.36 C580.85 7.33 581.86 7.31 582.88 7.29 C583.89 7.26 584.90 7.24 585.92 7.22 C586.93 7.20 587.95 7.18 588.96 7.16 C589.97 7.14 590.99 7.12 592.00 7.10 C593.02 7.09 594.03 7.07 595.04 7.06 C596.06 7.04 597.07 7.03 598.09 7.01 C599.10 7.00 600.11 6.99 601.13 6.97 C602.14 6.96 603.16 6.95 604.17 6.94 C605.19 6.93 606.20 6.92 607.21 6.91 C608.23 6.90 609.24 6.90 610.26 6.89 C611.27 6.88 612.28 6.87 613.30 6.87 C614.31 6.86 615.33 6.86 616.34 6.85 C617.36 6.85 618.37 6.84 619.38 6.84 C620.40 6.84 621.41 6.83 622.43 6.83 C623.44 6.83 624.46 6.82 625.47 6.82 C626.48 6.82 627.50 6.82 628.51 6.82 C629.53 6.81 630.54 6.81 631.56 6.81 C632.57 6.81 633.58 6.81 634.60 6.81 C635.61 6.81 636.63 6.81 637.64 6.81 C638.66 6.81 639.67 6.81 640.68 6.81 C641.70 6.81 642.71 6.81 643.73 6.81 C644.74 6.81 645.76 6.82 646.77 6.82 C647.78 6.82 648.80 6.82 649.81 6.82 C650.83 6.82 651.84 6.82 652.86 6.82 C653.87 6.82 654.88 6.82 655.90 6.82 C656.91 6.82 657.93 6.83 658.94 6.83 C659.96 6.83 660.97 6.83 661.99 6.83 C663.00 6.83 664.01 6.83 665.03 6.83 C666.04 6.83 667.06 6.83 668.07 6.84 C669.09 6.84 670.10 6.84 671.11 6.84 C672.13 6.84 673.14 6.84 674.16 6.84 C675.17 6.84 676.19 6.84 677.20 6.84 C678.21 6.85 679.23 6.85 680.24 6.85 C681.26 6.85 682.27 6.85 683.29 6.85 C684.30 6.85 685.31 6.85 686.33 6.86 C687.34 6.86 688.36 6.86 689.37 6.86 C690.39 6.86 691.40 6.86 692.41 6.86 C693.43 6.86 694.44 6.86 695.46 6.87 C696.47 6.87 697.49 6.87 698.50 6.87 C699.51 6.87 700.53 6.87 701.54 6.87 C702.56 6.87 703.57 6.88 704.59 6.88 C705.60 6.88 706.61 6.88 707.63 6.88 C708.64 6.88 709.66 6.88 710.67 6.88 C711.69 6.88 712.70 6.89 713.71 6.89 C714.73 6.89 715.74 6.89 716.76 6.89 C717.77 6.89 718.79 6.89 719.80 6.89 C720.81 6.89 721.83 6.89 722.84 6.90 C723.86 6.90 724.87 6.90 725.89 6.90 C726.90 6.90 727.91 6.90 728.93 6.90 C729.94 6.90 730.96 6.90 731.97 6.90 C732.99 6.90 734.00 6.90 735.01 6.91 C736.03 6.91 737.04 6.91 738.06 6.91 C739.07 6.91 740.09 6.91 741.10 6.91 C742.11 6.91 743.13 6.91 744.14 6.91 C745.16 6.91 746.17 6.91 747.19 6.91 C748.20 6.91 749.21 6.91 750.23 6.91 C751.24 6.91 752.26 6.91 753.27 6.92 C754.29 6.92 755.30 6.92 756.31 6.92 C757.33 6.92 758.34 6.92 759.36 6.92 C760.37 6.92 761.39 6.92 762.40 6.92 C763.41 6.92 764.43 6.92 765.44 6.92 C766.46 6.92 767.47 6.92 768.49 6.92 C769.50 6.92 770.51 6.92 771.53 6.92 C772.54 6.92 773.56 6.91 774.57 6.91 C775.59 6.91 776.60 6.91 777.61 6.91 C778.63 6.91 779.64 6.91 780.66 6.91 C781.67 6.91 782.69 6.91 783.70 6.91 C784.71 6.91 785.73 6.91 786.74 6.91 C787.76 6.91 788.77 6.91 789.79 6.90 C790.80 6.90 791.81 6.90 792.83 6.90 C793.84 6.90 794.86 6.90 795.87 6.90 C796.89 6.90 797.90 6.89 798.91 6.89 C799.93 6.89 800.94 6.89 801.96 6.89 C802.97 6.89 804.49 6.88 805.00 6.88" fill="none" stroke="#00ff00" stroke-width="2.33"/>
<path d="M488.70 10.23 C489.20 10.36 490.69 10.71 491.67 10.97 C492.66 11.24 493.63 11.52 494.60 11.81 C495.57 12.11 496.53 12.42 497.49 12.75 C498.44 13.08 499.38 13.42 500.32 13.78 C501.26 14.14 502.19 14.51 503.11 14.90 C504.03 15.29 504.94 15.69 505.85 16.11 C506.75 16.53 507.65 16.96 508.54 17.41 C509.42 17.85 510.30 18.32 511.17 18.79 C512.05 19.26 512.91 19.75 513.76 20.25 C514.62 20.75 515.46 21.27 516.30 21.79 C517.14 22.32 517.96 22.86 518.78 23.41 C519.60 23.96 520.41 24.53 521.21 25.10 C522.01 25.68 522.81 26.27 523.59 26.87 C524.37 27.47 525.15 28.08 525.91 28.70 C526.68 29.32 527.43 29.96 528.18 30.60 C528.93 31.24 529.66 31.90 530.39 32.56 C531.12 33.23 531.84 33.91 532.54 34.59 C533.25 35.28 533.95 35.97 534.64 36.68 C535.33 37.38 536.01 38.10 536.68 38.82 C537.35 39.54 538.01 40.28 538.66 41.02 C539.31 41.76 539.95 42.51 540.58 43.26 C541.22 44.01 541.85 44.77 542.48 45.53 C543.10 46.29 543.72 47.06 544.34 47.82 C544.97 48.59 545.58 49.35 546.21 50.12 C546.83 50.88 547.45 51.64 548.07 52.40 C548.70 53.15 549.33 53.91 549.96 54.65 C550.60 55.40 551.24 56.14 551.89 56.87 C552.54 57.59 553.19 58.32 553.86 59.02 C554.53 59.73 555.21 60.43 555.90 61.11 C556.59 61.80 557.30 62.47 558.02 63.12 C558.74 63.77 559.48 64.41 560.23 65.03 C560.99 65.64 561.76 66.24 562.55 66.82 C563.35 67.40 564.16 67.96 564.99 68.49 C565.83 69.02 566.69 69.54 567.57 70.00 C568.45 70.46 569.35 70.90 570.26 71.24 C571.17 71.58 572.10 71.88 573.03 72.06 C573.96 72.24 574.91 72.35 575.85 72.32 C576.80 72.28 577.75 72.12 578.70 71.87 C579.64 71.61 580.59 71.21 581.50 70.78 C582.40 70.36 583.30 69.84 584.15 69.32 C585.01 68.81 585.82 68.25 586.62 67.67 C587.41 67.09 588.17 66.49 588.91 65.86 C589.65 65.23 590.36 64.58 591.06 63.92 C591.76 63.25 592.44 62.56 593.11 61.86 C593.78 61.16 594.43 60.44 595.08 59.71 C595.73 58.98 596.37 58.24 597.01 57.50 C597.64 56.75 598.28 56.00 598.92 55.24 C599.56 54.49 600.19 53.72 600.83 52.96 C601.47 52.20 602.11 51.43 602.76 50.66 C603.40 49.90 604.05 49.13 604.70 48.36 C605.35 47.60 606.01 46.83 606.67 46.07 C607.32 45.32 607.99 44.56 608.66 43.81 C609.33 43.06 610.00 42.31 610.68 41.58 C611.36 40.84 612.05 40.11 612.75 39.39 C613.44 38.67 614.14 37.96 614.85 37.26 C615.57 36.56 616.28 35.87 617.01 35.20 C617.74 34.53 618.48 33.87 619.23 33.23 C619.98 32.58 620.74 31.95 621.50 31.34 C622.27 30.73 623.06 30.14 623.85 29.56 C624.64 28.98 625.44 28.42 626.25 27.88 C627.06 27.33 627.88 26.81 628.71 26.29 C629.54 25.78 630.38 25.28 631.23 24.80 C632.08 24.32 632.94 23.85 633.81 23.40 C634.67 22.94 635.55 22.50 636.43 22.08 C637.32 21.65 638.21 21.24 639.11 20.84 C640.01 20.44 640.91 20.06 641.83 19.69 C642.74 19.32 643.66 18.96 644.59 18.61 C645.51 18.26 646.45 17.93 647.39 17.61 C648.33 17.28 649.28 16.97 650.23 16.67 C651.18 16.37 652.14 16.08 653.10 15.80 C654.06 15.53 655.03 15.26 656.00 15.00 C656.98 14.74 657.95 14.50 658.94 14.26 C659.92 14.02 660.90 13.79 661.89 13.58 C662.88 13.36 663.88 13.15 664.87 12.95 C665.87 12.75 666.87 12.55 667.87 12.37 C668.88 12.18 669.88 12.01 670.89 11.84 C671.90 11.67 672.91 11.51 673.92 11.35 C674.94 11.20 675.95 11.05 676.97 10.91 C677.98 10.77 679.00 10.64 680.02 10.51 C681.04 10.38 682.06 10.26 683.08 10.14 C684.10 10.02 685.12 9.91 686.14 9.80 C687.16 9.70 688.18 9.59 689.20 9.50 C690.22 9.40 691.24 9.30 692.26 9.22 C693.28 9.13 694.30 9.04 695.32 8.96 C696.34 8.88 697.35 8.80 698.37 8.73 C699.39 8.65 700.41 8.58 701.42 8.52 C702.44 8.45 703.46 8.39 704.47 8.33 C705.49 8.27 706.51 8.22 707.52 8.16 C708.54 8.11 709.55 8.06 710.57 8.02 C711.59 7.97 712.60 7.93 713.61 7.89 C714.63 7.85 715.64 7.81 716.66 7.78 C717.67 7.74 718.69 7.71 719.70 7.68 C720.71 7.65 721.73 7.62 722.74 7.60 C723.76 7.57 724.77 7.55 725.78 7.53 C726.80 7.51 727.81 7.49 728.82 7.48 C729.83 7.46 730.85 7.45 731.86 7.44 C732.87 7.42 733.89 7.41 734.90 7.40 C735.91 7.40 736.92 7.39 737.94 7.38 C738.95 7.38 739.96 7.37 740.97 7.37 C741.99 7.36 743.00 7.36 744.01 7.36 C745.03 7.36 746.04 7.36 747.05 7.36 C748.06 7.36 749.08 7.36 750.09 7.37 C751.10 7.37 752.11 7.37 753.13 7.38 C754.14 7.38 755.15 7.38 756.17 7.39 C757.18 7.39 758.19 7.40 759.21 7.40 C760.22 7.40 761.23 7.41 762.25 7.41 C763.26 7.42 764.27 7.42 765.29 7.43 C766.30 7.43 767.32 7.44 768.33 7.44 C769.35 7.44 770.36 7.45 771.38 7.45 C772.39 7.45 773.41 7.45 774.42 7.46 C775.44 7.46 776.45 7.46 777.47 7.46 C778.49 7.46 779.50 7.46 780.52 7.45 C781.54 7.45 782.55 7.45 783.57 7.44 C784.59 7.44 785.61 7.43 786.62 7.42 C787.64 7.41 788.66 7.40 789.68 7.39 C790.70 7.38 791.72 7.37 792.74 7.35 C793.76 7.34 794.78 7.32 795.80 7.30 C796.82 7.28 797.84 7.26 798.86 7.24 C799.89 7.21 800.91 7.19 801.93 7.16 C802.95 7.13 804.49 7.08 805.00 7.07" fill="none" stroke="#0000ff" stroke-width="2.57" stroke-dasharray="2.3 4.3"/>
<path d="M488.70 8.84 C489.19 8.97 490.67 9.38 491.65 9.63 C492.64 9.89 493.63 10.15 494.62 10.39 C495.61 10.63 496.60 10.87 497.60 11.10 C498.59 11.32 499.59 11.54 500.59 11.75 C501.58 11.96 502.58 12.16 503.58 12.35 C504.58 12.53 505.59 12.71 506.59 12.87 C507.59 13.04 508.60 13.19 509.60 13.33 C510.60 13.47 511.61 13.60 512.62 13.71 C513.62 13.82 514.63 13.92 515.64 14.01 C516.65 14.09 517.65 14.16 518.66 14.22 C519.67 14.27 520.68 14.31 521.69 14.33 C522.70 14.36 523.71 14.37 524.72 14.36 C525.72 14.36 526.73 14.34 527.74 14.31 C528.75 14.28 529.76 14.24 530.77 14.19 C531.78 14.13 532.79 14.07 533.80 13.99 C534.80 13.91 535.81 13.83 536.82 13.73 C537.83 13.63 538.84 13.53 539.84 13.41 C540.85 13.29 541.86 13.17 542.86 13.04 C543.87 12.91 544.88 12.77 545.88 12.62 C546.89 12.48 547.89 12.33 548.90 12.18 C549.90 12.02 550.91 11.86 551.92 11.70 C552.92 11.55 553.93 11.38 554.93 11.22 C555.94 11.06 556.94 10.89 557.95 10.73 C558.96 10.57 559.96 10.40 560.97 10.24 C561.97 10.08 562.98 9.93 563.99 9.77 C564.99 9.62 566.00 9.47 567.01 9.32 C568.02 9.18 569.03 9.04 570.03 8.91 C571.04 8.78 572.05 8.66 573.06 8.54 C574.07 8.43 575.08 8.32 576.10 8.22 C577.11 8.12 578.12 8.04 579.13 7.96 C580.14 7.88 581.16 7.81 582.17 7.74 C583.19 7.68 584.20 7.62 585.21 7.57 C586.23 7.52 587.24 7.47 588.26 7.44 C589.28 7.40 590.29 7.36 591.31 7.33 C592.32 7.30 593.34 7.28 594.36 7.26 C595.37 7.24 596.39 7.22 597.41 7.20 C598.43 7.19 599.44 7.18 600.46 7.16 C601.48 7.15 602.50 7.14 603.52 7.14 C604.53 7.13 605.55 7.12 606.57 7.11 C607.59 7.10 608.60 7.09 609.62 7.09 C610.64 7.08 611.66 7.07 612.67 7.06 C613.69 7.06 614.71 7.05 615.73 7.04 C616.75 7.04 617.76 7.03 618.78 7.02 C619.80 7.02 620.82 7.01 621.83 7.01 C622.85 7.00 623.87 6.99 624.89 6.99 C625.91 6.98 626.92 6.98 627.94 6.97 C628.96 6.97 629.98 6.96 630.99 6.96 C632.01 6.95 633.03 6.95 634.05 6.95 C635.06 6.94 636.08 6.94 637.10 6.93 C638.12 6.93 639.13 6.93 640.15 6.92 C641.17 6.92 642.19 6.91 643.21 6.91 C644.22 6.91 645.24 6.91 646.26 6.90 C647.28 6.90 648.29 6.90 649.31 6.89 C650.33 6.89 651.35 6.89 652.36 6.89 C653.38 6.88 654.40 6.88 655.42 6.88 C656.43 6.88 657.45 6.88 658.47 6.87 C659.49 6.87 660.51 6.87 661.52 6.87 C662.54 6.87 663.56 6.87 664.58 6.87 C665.59 6.86 666.61 6.86 667.63 6.86 C668.65 6.86 669.66 6.86 670.68 6.86 C671.70 6.86 672.72 6.86 673.73 6.86 C674.75 6.86 675.77 6.86 676.79 6.86 C677.80 6.86 678.82 6.85 679.84 6.85 C680.86 6.85 681.87 6.85 682.89 6.85 C683.91 6.85 684.93 6.85 685.94 6.85 C686.96 6.85 687.98 6.86 689.00 6.86 C690.02 6.86 691.03 6.86 692.05 6.86 C693.07 6.86 694.09 6.86 695.10 6.86 C696.12 6.86 697.14 6.86 698.16 6.86 C699.17 6.86 700.19 6.86 701.21 6.86 C702.23 6.86 703.24 6.86 704.26 6.86 C705.28 6.87 706.30 6.87 707.31 6.87 C708.33 6.87 709.35 6.87 710.37 6.87 C711.38 6.87 712.40 6.87 713.42 6.87 C714.44 6.88 715.45 6.88 716.47 6.88 C717.49 6.88 718.51 6.88 719.52 6.88 C720.54 6.88 721.56 6.88 722.58 6.88 C723.59 6.89 724.61 6.89 725.63 6.89 C726.65 6.89 727.66 6.89 728.68 6.89 C729.70 6.89 730.72 6.89 731.73 6.90 C732.75 6.90 733.77 6.90 734.79 6.90 C735.80 6.90 736.82 6.90 737.84 6.90 C738.86 6.90 739.87 6.91 740.89 6.91 C741.91 6.91 742.93 6.91 743.95 6.91 C744.96 6.91 745.98 6.91 747.00 6.91 C748.02 6.91 749.03 6.91 750.05 6.92 C751.07 6.92 752.09 6.92 753.10 6.92 C754.12 6.92 755.14 6.92 756.16 6.92 C757.17 6.92 758.19 6.92 759.21 6.92 C760.23 6.92 761.24 6.92 762.26 6.92 C763.28 6.92 764.30 6.92 765.31 6.92 C766.33 6.92 767.35 6.93 768.37 6.93 C769.38 6.93 770.40 6.93 771.42 6.93 C772.44 6.93 773.45 6.93 774.47 6.92 C775.49 6.92 776.51 6.92 777.52 6.92 C778.54 6.92 779.56 6.92 780.58 6.92 C781.60 6.92 782.61 6.92 783.63 6.92 C784.65 6.92 785.67 6.92 786.68 6.92 C787.70 6.92 788.72 6.91 789.74 6.91 C790.75 6.91 791.77 6.91 792.79 6.91 C793.81 6.91 794.82 6.91 795.84 6.90 C796.86 6.90 797.88 6.90 798.89 6.90 C799.91 6.90 800.93 6.89 801.95 6.89 C802.96 6.89 804.49 6.88 805.00 6.88" fill="none" stroke="#00ff00" stroke-width="2.10" stroke-dasharray="12 8.6" stroke-dashoffset="-5.00"/>
</g></g>
<path d="M206.2 234.6H275.3" stroke="#ff0000" stroke-width="1.30" stroke-dasharray="21.7 8.6 7.5 9.8" fill="none"/>
<path d="M206.2 259.1H279.3" stroke="#0000ff" stroke-width="1.50" stroke-dasharray="1.7 3.85" fill="none"/>
<path d="M206.2 283H279.2" stroke="#00ff00" stroke-width="1.30" stroke-dasharray="12.2 8.5" fill="none"/>
<path d="M510.8 236.3H558.5" stroke="#00ff00" stroke-width="1.30" stroke-dasharray="11 9.8" fill="none"/>
<path d="M510.8 271H558.5" stroke="#0000ff" stroke-width="1.50" stroke-dasharray="1.7 3.85" fill="none"/>
<path d="M510.8 301.9H558.5" stroke="#ff0000" stroke-width="1.30" stroke-dasharray="22 7.8 8.1 20" fill="none"/>
<g font-family="'Liberation Sans', sans-serif" fill="#000" stroke="#000" stroke-width="0.35" style="filter:grayscale(1);text-rendering:geometricPrecision">
<text transform="translate(63.50 16.60) scale(0.886 1)" font-size="22.90" text-anchor="end">1.2</text>
<text transform="translate(68.00 112.14) scale(0.886 1)" font-size="22.90" text-anchor="end">1</text>
<text transform="translate(63.50 207.69) scale(0.886 1)" font-size="22.90" text-anchor="end">0.8</text>
<text transform="translate(63.50 303.23) scale(0.886 1)" font-size="22.90" text-anchor="end">0.6</text>
<text transform="translate(80.00 373.90) scale(0.886 1)" font-size="22.90" text-anchor="middle">0</text>
<text transform="translate(238.10 373.90) scale(0.886 1)" font-size="22.90" text-anchor="middle">5</text>
<text transform="translate(396.20 373.90) scale(0.886 1)" font-size="22.90" text-anchor="middle">10</text>
<text transform="translate(237.30 406.10) scale(0.886 1)" font-size="22.90" text-anchor="middle">z</text>
<text transform="translate(281.90 244.60) scale(0.886 1)" font-size="22.90" text-anchor="start">K=100</text>
<text transform="translate(281.90 268.50) scale(0.886 1)" font-size="22.90" text-anchor="start">K=10</text>
<text transform="translate(281.90 291.60) scale(0.886 1)" font-size="22.90" text-anchor="start">K=1</text>
<text transform="translate(477.70 35.50) scale(0.886 1)" font-size="22.90" text-anchor="end">0</text>
<text transform="translate(473.30 193.10) scale(0.886 1)" font-size="22.90" text-anchor="end">-5</text>
<text transform="translate(472.80 351.00) scale(0.886 1)" font-size="22.90" text-anchor="end">-10</text>
<text transform="translate(488.70 373.90) scale(0.886 1)" font-size="22.90" text-anchor="middle">0</text>
<text transform="translate(646.80 373.90) scale(0.886 1)" font-size="22.90" text-anchor="middle">5</text>
<text transform="translate(804.90 373.90) scale(0.886 1)" font-size="22.90" text-anchor="middle">10</text>
<text transform="translate(646.30 406.10) scale(0.886 1)" font-size="22.90" text-anchor="middle">z</text>
<text transform="translate(557.60 244.80) scale(0.886 1)" font-size="22.90" text-anchor="start">K=1</text>
<text transform="translate(557.60 277.00) scale(0.886 1)" font-size="22.90" text-anchor="start">K=10</text>
<text transform="translate(557.60 308.90) scale(0.886 1)" font-size="22.90" text-anchor="start">K=100</text>
</g>
<g font-family="'Liberation Serif', serif" fill="#222" style="filter:grayscale(1);text-rendering:geometricPrecision">
<text transform="translate(17.2 196.4) rotate(-90)" font-size="21" letter-spacing="2.0">f(z)</text>
<text transform="translate(442.2 214) rotate(-90)" font-size="21" letter-spacing="3.0"><tspan font-style="italic" font-size="23">&#947;</tspan>(z)</text>
</g>
</svg>
</body>
</html>
